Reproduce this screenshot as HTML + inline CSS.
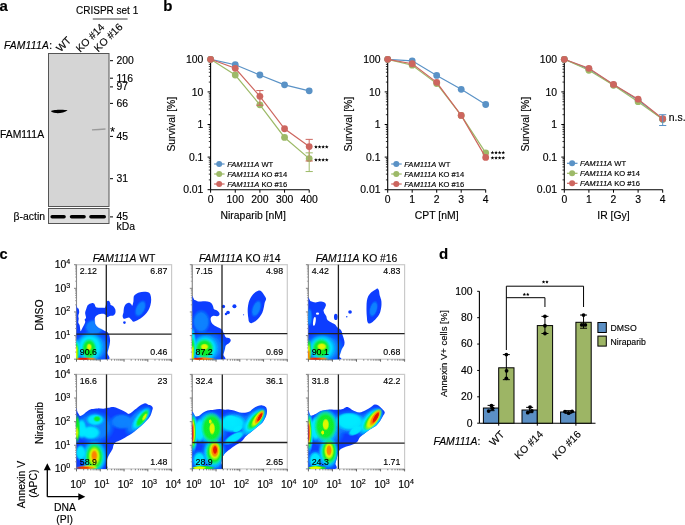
<!DOCTYPE html>
<html><head><meta charset="utf-8"><style>
html,body{margin:0;padding:0;background:#fff;}
body{width:685px;height:525px;overflow:hidden;}
svg{display:block;font-family:"Liberation Sans", sans-serif;will-change:transform;} text{stroke:#000;stroke-width:0.15px;}
</style></head><body>
<svg width="685" height="525" viewBox="0 0 685 525">
<defs>
<filter id="bl1" x="-50%" y="-200%" width="200%" height="500%"><feGaussianBlur stdDeviation="0.6"/></filter>
<radialGradient id="g1"><stop offset="0" stop-color="#0a84ff"/><stop offset="0.65" stop-color="#0a84ff" stop-opacity="0.95"/><stop offset="1" stop-color="#0a84ff" stop-opacity="0"/></radialGradient>
<radialGradient id="g2"><stop offset="0" stop-color="#00eaff"/><stop offset="0.65" stop-color="#00eaff" stop-opacity="0.95"/><stop offset="1" stop-color="#00eaff" stop-opacity="0"/></radialGradient>
<radialGradient id="g3"><stop offset="0" stop-color="#12ee22"/><stop offset="0.65" stop-color="#12ee22" stop-opacity="0.95"/><stop offset="1" stop-color="#12ee22" stop-opacity="0"/></radialGradient>
<radialGradient id="g4"><stop offset="0" stop-color="#e4f800"/><stop offset="0.65" stop-color="#e4f800" stop-opacity="0.95"/><stop offset="1" stop-color="#e4f800" stop-opacity="0"/></radialGradient>
<radialGradient id="g5"><stop offset="0" stop-color="#ff8000"/><stop offset="0.65" stop-color="#ff8000" stop-opacity="0.95"/><stop offset="1" stop-color="#ff8000" stop-opacity="0"/></radialGradient>
<radialGradient id="g6"><stop offset="0" stop-color="#e81000"/><stop offset="0.65" stop-color="#e81000" stop-opacity="0.95"/><stop offset="1" stop-color="#e81000" stop-opacity="0"/></radialGradient>
<filter id="sb" x="-5%" y="-5%" width="110%" height="110%"><feGaussianBlur stdDeviation="2.2"/></filter>
<filter id="sb2" x="-20%" y="-20%" width="140%" height="140%"><feGaussianBlur stdDeviation="3"/></filter>
<clipPath id="cp00"><rect x="76.50" y="264.70" width="95.1" height="94.5"/></clipPath>
<clipPath id="cp01"><rect x="192.30" y="264.70" width="95.0" height="94.5"/></clipPath>
<clipPath id="cp02"><rect x="308.40" y="264.70" width="96.2" height="94.5"/></clipPath>
<clipPath id="cp10"><rect x="76.50" y="374.40" width="95.1" height="94.5"/></clipPath>
<clipPath id="cp11"><rect x="192.30" y="374.40" width="95.0" height="94.5"/></clipPath>
<clipPath id="cp12"><rect x="308.40" y="374.40" width="96.2" height="94.5"/></clipPath>
</defs>
<text x="-0.60" y="11.10" font-size="15" text-anchor="start" font-weight="bold" font-style="normal" fill="#000" >a</text>
<text x="76.00" y="14.00" font-size="10" text-anchor="start" font-weight="normal" font-style="normal" fill="#000" >CRISPR set 1</text>
<line x1="92.80" y1="19.00" x2="127.60" y2="19.00" stroke="#444" stroke-width="1" />
<text x="3.90" y="48.70" font-size="10.3" text-anchor="start" font-weight="normal" font-style="normal" fill="#000" letter-spacing="0.25"><tspan font-style="italic">FAM111A</tspan>:</text>
<text x="0.00" y="0.00" font-size="10.4" text-anchor="start" font-weight="normal" font-style="normal" fill="#000" transform="translate(60.4,52.4) rotate(-45)">WT</text>
<text x="0.00" y="0.00" font-size="10.4" text-anchor="start" font-weight="normal" font-style="normal" fill="#000" transform="translate(80.2,52.8) rotate(-45)">KO #14</text>
<text x="0.00" y="0.00" font-size="10.4" text-anchor="start" font-weight="normal" font-style="normal" fill="#000" transform="translate(98.3,52.5) rotate(-45)">KO #16</text>
<rect x="48.5" y="53.5" width="60.5" height="153" fill="#d5d5d5" stroke="#555" stroke-width="1"/>
<rect x="48.5" y="208.5" width="60.5" height="15" fill="#dedede" stroke="#555" stroke-width="1"/>
<path d="M51,111 C53,109.5 64,109.3 67.6,110.2 C65,112.6 60,113.3 56,113.1 C53,112.9 51.3,112 51,111 Z" fill="#000" filter="url(#bl1)"/>
<path d="M92,129.9 Q99,129.6 105.5,129.0" stroke="#9a9a9a" stroke-width="1.3" fill="none" filter="url(#bl1)"/>
<rect x="50.4" y="215.0" width="15.4" height="3.5" rx="1.75" fill="#000" filter="url(#bl1)"/>
<rect x="69.8" y="215.0" width="16.0" height="3.5" rx="1.75" fill="#000" filter="url(#bl1)"/>
<rect x="89.2" y="215.0" width="16.8" height="3.5" rx="1.75" fill="#000" filter="url(#bl1)"/>
<line x1="110.00" y1="60.70" x2="113.00" y2="60.70" stroke="#000" stroke-width="1" />
<text x="116.50" y="64.00" font-size="10.4" text-anchor="start" font-weight="normal" font-style="normal" fill="#000" >200</text>
<line x1="110.00" y1="78.20" x2="113.00" y2="78.20" stroke="#000" stroke-width="1" />
<text x="116.50" y="81.50" font-size="10.4" text-anchor="start" font-weight="normal" font-style="normal" fill="#000" >116</text>
<line x1="110.00" y1="86.90" x2="113.00" y2="86.90" stroke="#000" stroke-width="1" />
<text x="116.50" y="90.20" font-size="10.4" text-anchor="start" font-weight="normal" font-style="normal" fill="#000" >97</text>
<line x1="110.00" y1="103.40" x2="113.00" y2="103.40" stroke="#000" stroke-width="1" />
<text x="116.50" y="106.70" font-size="10.4" text-anchor="start" font-weight="normal" font-style="normal" fill="#000" >66</text>
<line x1="110.00" y1="136.40" x2="113.00" y2="136.40" stroke="#000" stroke-width="1" />
<text x="116.50" y="139.70" font-size="10.4" text-anchor="start" font-weight="normal" font-style="normal" fill="#000" >45</text>
<line x1="110.00" y1="178.70" x2="113.00" y2="178.70" stroke="#000" stroke-width="1" />
<text x="116.50" y="182.00" font-size="10.4" text-anchor="start" font-weight="normal" font-style="normal" fill="#000" >31</text>
<line x1="110.00" y1="216.90" x2="113.00" y2="216.90" stroke="#000" stroke-width="1" />
<text x="116.50" y="220.20" font-size="10.4" text-anchor="start" font-weight="normal" font-style="normal" fill="#000" >45</text>
<text x="110.30" y="135.60" font-size="12" text-anchor="start" font-weight="normal" font-style="normal" fill="#000" >*</text>
<text x="116.50" y="229.50" font-size="10.4" text-anchor="start" font-weight="normal" font-style="normal" fill="#000" >kDa</text>
<text x="0.00" y="137.80" font-size="10.4" text-anchor="start" font-weight="normal" font-style="normal" fill="#000" >FAM111A</text>
<text x="13.60" y="220.30" font-size="10.4" text-anchor="start" font-weight="normal" font-style="normal" fill="#000" >&#946;-actin</text>
<text x="163.30" y="11.00" font-size="15" text-anchor="start" font-weight="bold" font-style="normal" fill="#000" >b</text>
<line x1="210.60" y1="59.30" x2="210.60" y2="189.70" stroke="#000" stroke-width="1.1" />
<line x1="207.60" y1="189.70" x2="210.60" y2="189.70" stroke="#000" stroke-width="1" />
<line x1="208.80" y1="179.89" x2="210.60" y2="179.89" stroke="#000" stroke-width="0.8" />
<line x1="208.80" y1="174.15" x2="210.60" y2="174.15" stroke="#000" stroke-width="0.8" />
<line x1="208.80" y1="170.07" x2="210.60" y2="170.07" stroke="#000" stroke-width="0.8" />
<line x1="208.80" y1="166.91" x2="210.60" y2="166.91" stroke="#000" stroke-width="0.8" />
<line x1="208.80" y1="164.33" x2="210.60" y2="164.33" stroke="#000" stroke-width="0.8" />
<line x1="208.80" y1="162.15" x2="210.60" y2="162.15" stroke="#000" stroke-width="0.8" />
<line x1="208.80" y1="160.26" x2="210.60" y2="160.26" stroke="#000" stroke-width="0.8" />
<line x1="208.80" y1="158.59" x2="210.60" y2="158.59" stroke="#000" stroke-width="0.8" />
<line x1="207.60" y1="157.10" x2="210.60" y2="157.10" stroke="#000" stroke-width="1" />
<line x1="208.80" y1="147.29" x2="210.60" y2="147.29" stroke="#000" stroke-width="0.8" />
<line x1="208.80" y1="141.55" x2="210.60" y2="141.55" stroke="#000" stroke-width="0.8" />
<line x1="208.80" y1="137.47" x2="210.60" y2="137.47" stroke="#000" stroke-width="0.8" />
<line x1="208.80" y1="134.31" x2="210.60" y2="134.31" stroke="#000" stroke-width="0.8" />
<line x1="208.80" y1="131.73" x2="210.60" y2="131.73" stroke="#000" stroke-width="0.8" />
<line x1="208.80" y1="129.55" x2="210.60" y2="129.55" stroke="#000" stroke-width="0.8" />
<line x1="208.80" y1="127.66" x2="210.60" y2="127.66" stroke="#000" stroke-width="0.8" />
<line x1="208.80" y1="125.99" x2="210.60" y2="125.99" stroke="#000" stroke-width="0.8" />
<line x1="207.60" y1="124.50" x2="210.60" y2="124.50" stroke="#000" stroke-width="1" />
<line x1="208.80" y1="114.69" x2="210.60" y2="114.69" stroke="#000" stroke-width="0.8" />
<line x1="208.80" y1="108.95" x2="210.60" y2="108.95" stroke="#000" stroke-width="0.8" />
<line x1="208.80" y1="104.87" x2="210.60" y2="104.87" stroke="#000" stroke-width="0.8" />
<line x1="208.80" y1="101.71" x2="210.60" y2="101.71" stroke="#000" stroke-width="0.8" />
<line x1="208.80" y1="99.13" x2="210.60" y2="99.13" stroke="#000" stroke-width="0.8" />
<line x1="208.80" y1="96.95" x2="210.60" y2="96.95" stroke="#000" stroke-width="0.8" />
<line x1="208.80" y1="95.06" x2="210.60" y2="95.06" stroke="#000" stroke-width="0.8" />
<line x1="208.80" y1="93.39" x2="210.60" y2="93.39" stroke="#000" stroke-width="0.8" />
<line x1="207.60" y1="91.90" x2="210.60" y2="91.90" stroke="#000" stroke-width="1" />
<line x1="208.80" y1="82.09" x2="210.60" y2="82.09" stroke="#000" stroke-width="0.8" />
<line x1="208.80" y1="76.35" x2="210.60" y2="76.35" stroke="#000" stroke-width="0.8" />
<line x1="208.80" y1="72.27" x2="210.60" y2="72.27" stroke="#000" stroke-width="0.8" />
<line x1="208.80" y1="69.11" x2="210.60" y2="69.11" stroke="#000" stroke-width="0.8" />
<line x1="208.80" y1="66.53" x2="210.60" y2="66.53" stroke="#000" stroke-width="0.8" />
<line x1="208.80" y1="64.35" x2="210.60" y2="64.35" stroke="#000" stroke-width="0.8" />
<line x1="208.80" y1="62.46" x2="210.60" y2="62.46" stroke="#000" stroke-width="0.8" />
<line x1="208.80" y1="60.79" x2="210.60" y2="60.79" stroke="#000" stroke-width="0.8" />
<line x1="207.60" y1="59.30" x2="210.60" y2="59.30" stroke="#000" stroke-width="1" />
<text x="203.40" y="62.90" font-size="10.4" text-anchor="end" font-weight="normal" font-style="normal" fill="#000" >100</text>
<text x="203.40" y="95.50" font-size="10.4" text-anchor="end" font-weight="normal" font-style="normal" fill="#000" >10</text>
<text x="203.40" y="128.10" font-size="10.4" text-anchor="end" font-weight="normal" font-style="normal" fill="#000" >1</text>
<text x="203.40" y="160.70" font-size="10.4" text-anchor="end" font-weight="normal" font-style="normal" fill="#000" >0.1</text>
<text x="203.40" y="193.30" font-size="10.4" text-anchor="end" font-weight="normal" font-style="normal" fill="#000" >0.01</text>
<line x1="210.60" y1="189.70" x2="309.20" y2="189.70" stroke="#000" stroke-width="1.1" />
<line x1="210.60" y1="189.70" x2="210.60" y2="192.70" stroke="#000" stroke-width="1" />
<text x="210.60" y="203.40" font-size="10.4" text-anchor="middle" font-weight="normal" font-style="normal" fill="#000" >0</text>
<line x1="235.25" y1="189.70" x2="235.25" y2="192.70" stroke="#000" stroke-width="1" />
<text x="235.25" y="203.40" font-size="10.4" text-anchor="middle" font-weight="normal" font-style="normal" fill="#000" >100</text>
<line x1="259.90" y1="189.70" x2="259.90" y2="192.70" stroke="#000" stroke-width="1" />
<text x="259.90" y="203.40" font-size="10.4" text-anchor="middle" font-weight="normal" font-style="normal" fill="#000" >200</text>
<line x1="284.55" y1="189.70" x2="284.55" y2="192.70" stroke="#000" stroke-width="1" />
<text x="284.55" y="203.40" font-size="10.4" text-anchor="middle" font-weight="normal" font-style="normal" fill="#000" >300</text>
<line x1="309.20" y1="189.70" x2="309.20" y2="192.70" stroke="#000" stroke-width="1" />
<text x="309.20" y="203.40" font-size="10.4" text-anchor="middle" font-weight="normal" font-style="normal" fill="#000" >400</text>
<text x="253.20" y="218.60" font-size="10.4" text-anchor="middle" font-weight="normal" font-style="normal" fill="#000" >Niraparib [nM]</text>
<text x="0.00" y="0.00" font-size="10.4" text-anchor="middle" font-weight="normal" font-style="normal" fill="#000" transform="translate(175.0,124.2) rotate(-90)">Survival [%]</text>
<polyline points="210.60,59.30 235.25,64.76 259.90,75.00 284.55,84.81 309.20,90.81" fill="none" stroke="#5a92c6" stroke-width="1.2"/>
<circle cx="210.60" cy="59.30" r="3.4" fill="#5a92c6"/>
<circle cx="235.25" cy="64.76" r="3.4" fill="#5a92c6"/>
<circle cx="259.90" cy="75.00" r="3.4" fill="#5a92c6"/>
<circle cx="284.55" cy="84.81" r="3.4" fill="#5a92c6"/>
<circle cx="309.20" cy="90.81" r="3.4" fill="#5a92c6"/>
<polyline points="210.60,59.30 235.25,75.00 259.90,104.87 284.55,137.47 309.20,158.59" fill="none" stroke="#9dba68" stroke-width="1.2"/>
<circle cx="210.60" cy="59.30" r="3.4" fill="#9dba68"/>
<circle cx="235.25" cy="75.00" r="3.4" fill="#9dba68"/>
<circle cx="259.90" cy="104.87" r="3.4" fill="#9dba68"/>
<circle cx="284.55" cy="137.47" r="3.4" fill="#9dba68"/>
<circle cx="309.20" cy="158.59" r="3.4" fill="#9dba68"/>
<polyline points="210.60,59.30 235.25,68.29 259.90,96.36 284.55,128.76 309.20,146.60" fill="none" stroke="#cd665f" stroke-width="1.2"/>
<circle cx="210.60" cy="59.30" r="3.4" fill="#cd665f"/>
<circle cx="235.25" cy="68.29" r="3.4" fill="#cd665f"/>
<circle cx="259.90" cy="96.36" r="3.4" fill="#cd665f"/>
<circle cx="284.55" cy="128.76" r="3.4" fill="#cd665f"/>
<circle cx="309.20" cy="146.60" r="3.4" fill="#cd665f"/>
<line x1="259.90" y1="90.55" x2="259.90" y2="105.23" stroke="#cd665f" stroke-width="1" />
<line x1="256.30" y1="90.55" x2="263.50" y2="90.55" stroke="#cd665f" stroke-width="1" />
<line x1="256.30" y1="105.23" x2="263.50" y2="105.23" stroke="#cd665f" stroke-width="1" />
<line x1="309.20" y1="139.36" x2="309.20" y2="160.99" stroke="#cd665f" stroke-width="1" />
<line x1="305.60" y1="139.36" x2="312.80" y2="139.36" stroke="#cd665f" stroke-width="1" />
<line x1="305.60" y1="160.99" x2="312.80" y2="160.99" stroke="#cd665f" stroke-width="1" />
<line x1="309.20" y1="152.85" x2="309.20" y2="171.56" stroke="#9dba68" stroke-width="1" />
<line x1="305.60" y1="152.85" x2="312.80" y2="152.85" stroke="#9dba68" stroke-width="1" />
<line x1="305.60" y1="171.56" x2="312.80" y2="171.56" stroke="#9dba68" stroke-width="1" />
<line x1="214.10" y1="164.00" x2="224.60" y2="164.00" stroke="#5a92c6" stroke-width="1.2" />
<circle cx="219.20" cy="164" r="3.0" fill="#5a92c6"/>
<text x="227.20" y="166.70" font-size="7.6" text-anchor="start" font-weight="normal" font-style="normal" fill="#000" ><tspan font-style="italic">FAM111A</tspan> WT</text>
<line x1="214.10" y1="174.00" x2="224.60" y2="174.00" stroke="#9dba68" stroke-width="1.2" />
<circle cx="219.20" cy="174" r="3.0" fill="#9dba68"/>
<text x="227.20" y="176.70" font-size="7.6" text-anchor="start" font-weight="normal" font-style="normal" fill="#000" ><tspan font-style="italic">FAM111A</tspan> KO #14</text>
<line x1="214.10" y1="184.00" x2="224.60" y2="184.00" stroke="#cd665f" stroke-width="1.2" />
<circle cx="219.20" cy="184" r="3.0" fill="#cd665f"/>
<text x="227.20" y="186.70" font-size="7.6" text-anchor="start" font-weight="normal" font-style="normal" fill="#000" ><tspan font-style="italic">FAM111A</tspan> KO #16</text>
<polygon points="315.95,145.05 316.45,146.31 317.80,146.40 316.76,147.26 317.10,148.58 315.95,147.85 314.80,148.58 315.14,147.26 314.10,146.40 315.45,146.31" fill="#000"/>
<polygon points="319.55,145.05 320.05,146.31 321.40,146.40 320.36,147.26 320.70,148.58 319.55,147.85 318.40,148.58 318.74,147.26 317.70,146.40 319.05,146.31" fill="#000"/>
<polygon points="323.15,145.05 323.65,146.31 325.00,146.40 323.96,147.26 324.30,148.58 323.15,147.85 322.00,148.58 322.34,147.26 321.30,146.40 322.65,146.31" fill="#000"/>
<polygon points="326.75,145.05 327.25,146.31 328.60,146.40 327.56,147.26 327.90,148.58 326.75,147.85 325.60,148.58 325.94,147.26 324.90,146.40 326.25,146.31" fill="#000"/>
<polygon points="315.95,157.95 316.45,159.21 317.80,159.30 316.76,160.16 317.10,161.48 315.95,160.75 314.80,161.48 315.14,160.16 314.10,159.30 315.45,159.21" fill="#000"/>
<polygon points="319.55,157.95 320.05,159.21 321.40,159.30 320.36,160.16 320.70,161.48 319.55,160.75 318.40,161.48 318.74,160.16 317.70,159.30 319.05,159.21" fill="#000"/>
<polygon points="323.15,157.95 323.65,159.21 325.00,159.30 323.96,160.16 324.30,161.48 323.15,160.75 322.00,161.48 322.34,160.16 321.30,159.30 322.65,159.21" fill="#000"/>
<polygon points="326.75,157.95 327.25,159.21 328.60,159.30 327.56,160.16 327.90,161.48 326.75,160.75 325.60,161.48 325.94,160.16 324.90,159.30 326.25,159.21" fill="#000"/>
<line x1="387.70" y1="59.30" x2="387.70" y2="189.70" stroke="#000" stroke-width="1.1" />
<line x1="384.70" y1="189.70" x2="387.70" y2="189.70" stroke="#000" stroke-width="1" />
<line x1="385.90" y1="179.89" x2="387.70" y2="179.89" stroke="#000" stroke-width="0.8" />
<line x1="385.90" y1="174.15" x2="387.70" y2="174.15" stroke="#000" stroke-width="0.8" />
<line x1="385.90" y1="170.07" x2="387.70" y2="170.07" stroke="#000" stroke-width="0.8" />
<line x1="385.90" y1="166.91" x2="387.70" y2="166.91" stroke="#000" stroke-width="0.8" />
<line x1="385.90" y1="164.33" x2="387.70" y2="164.33" stroke="#000" stroke-width="0.8" />
<line x1="385.90" y1="162.15" x2="387.70" y2="162.15" stroke="#000" stroke-width="0.8" />
<line x1="385.90" y1="160.26" x2="387.70" y2="160.26" stroke="#000" stroke-width="0.8" />
<line x1="385.90" y1="158.59" x2="387.70" y2="158.59" stroke="#000" stroke-width="0.8" />
<line x1="384.70" y1="157.10" x2="387.70" y2="157.10" stroke="#000" stroke-width="1" />
<line x1="385.90" y1="147.29" x2="387.70" y2="147.29" stroke="#000" stroke-width="0.8" />
<line x1="385.90" y1="141.55" x2="387.70" y2="141.55" stroke="#000" stroke-width="0.8" />
<line x1="385.90" y1="137.47" x2="387.70" y2="137.47" stroke="#000" stroke-width="0.8" />
<line x1="385.90" y1="134.31" x2="387.70" y2="134.31" stroke="#000" stroke-width="0.8" />
<line x1="385.90" y1="131.73" x2="387.70" y2="131.73" stroke="#000" stroke-width="0.8" />
<line x1="385.90" y1="129.55" x2="387.70" y2="129.55" stroke="#000" stroke-width="0.8" />
<line x1="385.90" y1="127.66" x2="387.70" y2="127.66" stroke="#000" stroke-width="0.8" />
<line x1="385.90" y1="125.99" x2="387.70" y2="125.99" stroke="#000" stroke-width="0.8" />
<line x1="384.70" y1="124.50" x2="387.70" y2="124.50" stroke="#000" stroke-width="1" />
<line x1="385.90" y1="114.69" x2="387.70" y2="114.69" stroke="#000" stroke-width="0.8" />
<line x1="385.90" y1="108.95" x2="387.70" y2="108.95" stroke="#000" stroke-width="0.8" />
<line x1="385.90" y1="104.87" x2="387.70" y2="104.87" stroke="#000" stroke-width="0.8" />
<line x1="385.90" y1="101.71" x2="387.70" y2="101.71" stroke="#000" stroke-width="0.8" />
<line x1="385.90" y1="99.13" x2="387.70" y2="99.13" stroke="#000" stroke-width="0.8" />
<line x1="385.90" y1="96.95" x2="387.70" y2="96.95" stroke="#000" stroke-width="0.8" />
<line x1="385.90" y1="95.06" x2="387.70" y2="95.06" stroke="#000" stroke-width="0.8" />
<line x1="385.90" y1="93.39" x2="387.70" y2="93.39" stroke="#000" stroke-width="0.8" />
<line x1="384.70" y1="91.90" x2="387.70" y2="91.90" stroke="#000" stroke-width="1" />
<line x1="385.90" y1="82.09" x2="387.70" y2="82.09" stroke="#000" stroke-width="0.8" />
<line x1="385.90" y1="76.35" x2="387.70" y2="76.35" stroke="#000" stroke-width="0.8" />
<line x1="385.90" y1="72.27" x2="387.70" y2="72.27" stroke="#000" stroke-width="0.8" />
<line x1="385.90" y1="69.11" x2="387.70" y2="69.11" stroke="#000" stroke-width="0.8" />
<line x1="385.90" y1="66.53" x2="387.70" y2="66.53" stroke="#000" stroke-width="0.8" />
<line x1="385.90" y1="64.35" x2="387.70" y2="64.35" stroke="#000" stroke-width="0.8" />
<line x1="385.90" y1="62.46" x2="387.70" y2="62.46" stroke="#000" stroke-width="0.8" />
<line x1="385.90" y1="60.79" x2="387.70" y2="60.79" stroke="#000" stroke-width="0.8" />
<line x1="384.70" y1="59.30" x2="387.70" y2="59.30" stroke="#000" stroke-width="1" />
<text x="380.50" y="62.90" font-size="10.4" text-anchor="end" font-weight="normal" font-style="normal" fill="#000" >100</text>
<text x="380.50" y="95.50" font-size="10.4" text-anchor="end" font-weight="normal" font-style="normal" fill="#000" >10</text>
<text x="380.50" y="128.10" font-size="10.4" text-anchor="end" font-weight="normal" font-style="normal" fill="#000" >1</text>
<text x="380.50" y="160.70" font-size="10.4" text-anchor="end" font-weight="normal" font-style="normal" fill="#000" >0.1</text>
<text x="380.50" y="193.30" font-size="10.4" text-anchor="end" font-weight="normal" font-style="normal" fill="#000" >0.01</text>
<line x1="387.70" y1="189.70" x2="485.70" y2="189.70" stroke="#000" stroke-width="1.1" />
<line x1="387.70" y1="189.70" x2="387.70" y2="192.70" stroke="#000" stroke-width="1" />
<text x="387.70" y="203.40" font-size="10.4" text-anchor="middle" font-weight="normal" font-style="normal" fill="#000" >0</text>
<line x1="412.20" y1="189.70" x2="412.20" y2="192.70" stroke="#000" stroke-width="1" />
<text x="412.20" y="203.40" font-size="10.4" text-anchor="middle" font-weight="normal" font-style="normal" fill="#000" >1</text>
<line x1="436.70" y1="189.70" x2="436.70" y2="192.70" stroke="#000" stroke-width="1" />
<text x="436.70" y="203.40" font-size="10.4" text-anchor="middle" font-weight="normal" font-style="normal" fill="#000" >2</text>
<line x1="461.20" y1="189.70" x2="461.20" y2="192.70" stroke="#000" stroke-width="1" />
<text x="461.20" y="203.40" font-size="10.4" text-anchor="middle" font-weight="normal" font-style="normal" fill="#000" >3</text>
<line x1="485.70" y1="189.70" x2="485.70" y2="192.70" stroke="#000" stroke-width="1" />
<text x="485.70" y="203.40" font-size="10.4" text-anchor="middle" font-weight="normal" font-style="normal" fill="#000" >4</text>
<text x="436.70" y="218.60" font-size="10.4" text-anchor="middle" font-weight="normal" font-style="normal" fill="#000" >CPT [nM]</text>
<text x="0.00" y="0.00" font-size="10.4" text-anchor="middle" font-weight="normal" font-style="normal" fill="#000" transform="translate(352.09999999999997,124.2) rotate(-90)">Survival [%]</text>
<polyline points="387.70,59.30 412.20,60.79 436.70,75.43 461.20,89.32 485.70,104.52" fill="none" stroke="#5a92c6" stroke-width="1.2"/>
<circle cx="387.70" cy="59.30" r="3.4" fill="#5a92c6"/>
<circle cx="412.20" cy="60.79" r="3.4" fill="#5a92c6"/>
<circle cx="436.70" cy="75.43" r="3.4" fill="#5a92c6"/>
<circle cx="461.20" cy="89.32" r="3.4" fill="#5a92c6"/>
<circle cx="485.70" cy="104.52" r="3.4" fill="#5a92c6"/>
<polyline points="387.70,59.30 412.20,65.18 436.70,83.58 461.20,115.41 485.70,152.85" fill="none" stroke="#9dba68" stroke-width="1.2"/>
<circle cx="387.70" cy="59.30" r="3.4" fill="#9dba68"/>
<circle cx="412.20" cy="65.18" r="3.4" fill="#9dba68"/>
<circle cx="436.70" cy="83.58" r="3.4" fill="#9dba68"/>
<circle cx="461.20" cy="115.41" r="3.4" fill="#9dba68"/>
<circle cx="485.70" cy="152.85" r="3.4" fill="#9dba68"/>
<polyline points="387.70,59.30 412.20,63.76 436.70,82.37 461.20,115.41 485.70,157.39" fill="none" stroke="#cd665f" stroke-width="1.2"/>
<circle cx="387.70" cy="59.30" r="3.4" fill="#cd665f"/>
<circle cx="412.20" cy="63.76" r="3.4" fill="#cd665f"/>
<circle cx="436.70" cy="82.37" r="3.4" fill="#cd665f"/>
<circle cx="461.20" cy="115.41" r="3.4" fill="#cd665f"/>
<circle cx="485.70" cy="157.39" r="3.4" fill="#cd665f"/>
<line x1="391.20" y1="164.00" x2="401.70" y2="164.00" stroke="#5a92c6" stroke-width="1.2" />
<circle cx="396.30" cy="164" r="3.0" fill="#5a92c6"/>
<text x="404.30" y="166.70" font-size="7.6" text-anchor="start" font-weight="normal" font-style="normal" fill="#000" ><tspan font-style="italic">FAM111A</tspan> WT</text>
<line x1="391.20" y1="174.00" x2="401.70" y2="174.00" stroke="#9dba68" stroke-width="1.2" />
<circle cx="396.30" cy="174" r="3.0" fill="#9dba68"/>
<text x="404.30" y="176.70" font-size="7.6" text-anchor="start" font-weight="normal" font-style="normal" fill="#000" ><tspan font-style="italic">FAM111A</tspan> KO #14</text>
<line x1="391.20" y1="184.00" x2="401.70" y2="184.00" stroke="#cd665f" stroke-width="1.2" />
<circle cx="396.30" cy="184" r="3.0" fill="#cd665f"/>
<text x="404.30" y="186.70" font-size="7.6" text-anchor="start" font-weight="normal" font-style="normal" fill="#000" ><tspan font-style="italic">FAM111A</tspan> KO #16</text>
<polygon points="492.45,150.65 492.95,151.91 494.30,152.00 493.26,152.86 493.60,154.18 492.45,153.45 491.30,154.18 491.64,152.86 490.60,152.00 491.95,151.91" fill="#000"/>
<polygon points="496.05,150.65 496.55,151.91 497.90,152.00 496.86,152.86 497.20,154.18 496.05,153.45 494.90,154.18 495.24,152.86 494.20,152.00 495.55,151.91" fill="#000"/>
<polygon points="499.65,150.65 500.15,151.91 501.50,152.00 500.46,152.86 500.80,154.18 499.65,153.45 498.50,154.18 498.84,152.86 497.80,152.00 499.15,151.91" fill="#000"/>
<polygon points="503.25,150.65 503.75,151.91 505.10,152.00 504.06,152.86 504.40,154.18 503.25,153.45 502.10,154.18 502.44,152.86 501.40,152.00 502.75,151.91" fill="#000"/>
<polygon points="492.45,155.95 492.95,157.21 494.30,157.30 493.26,158.16 493.60,159.48 492.45,158.75 491.30,159.48 491.64,158.16 490.60,157.30 491.95,157.21" fill="#000"/>
<polygon points="496.05,155.95 496.55,157.21 497.90,157.30 496.86,158.16 497.20,159.48 496.05,158.75 494.90,159.48 495.24,158.16 494.20,157.30 495.55,157.21" fill="#000"/>
<polygon points="499.65,155.95 500.15,157.21 501.50,157.30 500.46,158.16 500.80,159.48 499.65,158.75 498.50,159.48 498.84,158.16 497.80,157.30 499.15,157.21" fill="#000"/>
<polygon points="503.25,155.95 503.75,157.21 505.10,157.30 504.06,158.16 504.40,159.48 503.25,158.75 502.10,159.48 502.44,158.16 501.40,157.30 502.75,157.21" fill="#000"/>
<line x1="564.30" y1="59.30" x2="564.30" y2="189.70" stroke="#000" stroke-width="1.1" />
<line x1="561.30" y1="189.70" x2="564.30" y2="189.70" stroke="#000" stroke-width="1" />
<line x1="562.50" y1="179.89" x2="564.30" y2="179.89" stroke="#000" stroke-width="0.8" />
<line x1="562.50" y1="174.15" x2="564.30" y2="174.15" stroke="#000" stroke-width="0.8" />
<line x1="562.50" y1="170.07" x2="564.30" y2="170.07" stroke="#000" stroke-width="0.8" />
<line x1="562.50" y1="166.91" x2="564.30" y2="166.91" stroke="#000" stroke-width="0.8" />
<line x1="562.50" y1="164.33" x2="564.30" y2="164.33" stroke="#000" stroke-width="0.8" />
<line x1="562.50" y1="162.15" x2="564.30" y2="162.15" stroke="#000" stroke-width="0.8" />
<line x1="562.50" y1="160.26" x2="564.30" y2="160.26" stroke="#000" stroke-width="0.8" />
<line x1="562.50" y1="158.59" x2="564.30" y2="158.59" stroke="#000" stroke-width="0.8" />
<line x1="561.30" y1="157.10" x2="564.30" y2="157.10" stroke="#000" stroke-width="1" />
<line x1="562.50" y1="147.29" x2="564.30" y2="147.29" stroke="#000" stroke-width="0.8" />
<line x1="562.50" y1="141.55" x2="564.30" y2="141.55" stroke="#000" stroke-width="0.8" />
<line x1="562.50" y1="137.47" x2="564.30" y2="137.47" stroke="#000" stroke-width="0.8" />
<line x1="562.50" y1="134.31" x2="564.30" y2="134.31" stroke="#000" stroke-width="0.8" />
<line x1="562.50" y1="131.73" x2="564.30" y2="131.73" stroke="#000" stroke-width="0.8" />
<line x1="562.50" y1="129.55" x2="564.30" y2="129.55" stroke="#000" stroke-width="0.8" />
<line x1="562.50" y1="127.66" x2="564.30" y2="127.66" stroke="#000" stroke-width="0.8" />
<line x1="562.50" y1="125.99" x2="564.30" y2="125.99" stroke="#000" stroke-width="0.8" />
<line x1="561.30" y1="124.50" x2="564.30" y2="124.50" stroke="#000" stroke-width="1" />
<line x1="562.50" y1="114.69" x2="564.30" y2="114.69" stroke="#000" stroke-width="0.8" />
<line x1="562.50" y1="108.95" x2="564.30" y2="108.95" stroke="#000" stroke-width="0.8" />
<line x1="562.50" y1="104.87" x2="564.30" y2="104.87" stroke="#000" stroke-width="0.8" />
<line x1="562.50" y1="101.71" x2="564.30" y2="101.71" stroke="#000" stroke-width="0.8" />
<line x1="562.50" y1="99.13" x2="564.30" y2="99.13" stroke="#000" stroke-width="0.8" />
<line x1="562.50" y1="96.95" x2="564.30" y2="96.95" stroke="#000" stroke-width="0.8" />
<line x1="562.50" y1="95.06" x2="564.30" y2="95.06" stroke="#000" stroke-width="0.8" />
<line x1="562.50" y1="93.39" x2="564.30" y2="93.39" stroke="#000" stroke-width="0.8" />
<line x1="561.30" y1="91.90" x2="564.30" y2="91.90" stroke="#000" stroke-width="1" />
<line x1="562.50" y1="82.09" x2="564.30" y2="82.09" stroke="#000" stroke-width="0.8" />
<line x1="562.50" y1="76.35" x2="564.30" y2="76.35" stroke="#000" stroke-width="0.8" />
<line x1="562.50" y1="72.27" x2="564.30" y2="72.27" stroke="#000" stroke-width="0.8" />
<line x1="562.50" y1="69.11" x2="564.30" y2="69.11" stroke="#000" stroke-width="0.8" />
<line x1="562.50" y1="66.53" x2="564.30" y2="66.53" stroke="#000" stroke-width="0.8" />
<line x1="562.50" y1="64.35" x2="564.30" y2="64.35" stroke="#000" stroke-width="0.8" />
<line x1="562.50" y1="62.46" x2="564.30" y2="62.46" stroke="#000" stroke-width="0.8" />
<line x1="562.50" y1="60.79" x2="564.30" y2="60.79" stroke="#000" stroke-width="0.8" />
<line x1="561.30" y1="59.30" x2="564.30" y2="59.30" stroke="#000" stroke-width="1" />
<text x="557.10" y="62.90" font-size="10.4" text-anchor="end" font-weight="normal" font-style="normal" fill="#000" >100</text>
<text x="557.10" y="95.50" font-size="10.4" text-anchor="end" font-weight="normal" font-style="normal" fill="#000" >10</text>
<text x="557.10" y="128.10" font-size="10.4" text-anchor="end" font-weight="normal" font-style="normal" fill="#000" >1</text>
<text x="557.10" y="160.70" font-size="10.4" text-anchor="end" font-weight="normal" font-style="normal" fill="#000" >0.1</text>
<text x="557.10" y="193.30" font-size="10.4" text-anchor="end" font-weight="normal" font-style="normal" fill="#000" >0.01</text>
<line x1="564.30" y1="189.70" x2="662.70" y2="189.70" stroke="#000" stroke-width="1.1" />
<line x1="564.30" y1="189.70" x2="564.30" y2="192.70" stroke="#000" stroke-width="1" />
<text x="564.30" y="203.40" font-size="10.4" text-anchor="middle" font-weight="normal" font-style="normal" fill="#000" >0</text>
<line x1="588.90" y1="189.70" x2="588.90" y2="192.70" stroke="#000" stroke-width="1" />
<text x="588.90" y="203.40" font-size="10.4" text-anchor="middle" font-weight="normal" font-style="normal" fill="#000" >1</text>
<line x1="613.50" y1="189.70" x2="613.50" y2="192.70" stroke="#000" stroke-width="1" />
<text x="613.50" y="203.40" font-size="10.4" text-anchor="middle" font-weight="normal" font-style="normal" fill="#000" >2</text>
<line x1="638.10" y1="189.70" x2="638.10" y2="192.70" stroke="#000" stroke-width="1" />
<text x="638.10" y="203.40" font-size="10.4" text-anchor="middle" font-weight="normal" font-style="normal" fill="#000" >3</text>
<line x1="662.70" y1="189.70" x2="662.70" y2="192.70" stroke="#000" stroke-width="1" />
<text x="662.70" y="203.40" font-size="10.4" text-anchor="middle" font-weight="normal" font-style="normal" fill="#000" >4</text>
<text x="613.50" y="218.60" font-size="10.4" text-anchor="middle" font-weight="normal" font-style="normal" fill="#000" >IR [Gy]</text>
<text x="0.00" y="0.00" font-size="10.4" text-anchor="middle" font-weight="normal" font-style="normal" fill="#000" transform="translate(528.6999999999999,124.2) rotate(-90)">Survival [%]</text>
<polyline points="564.30,59.30 588.90,69.11 613.50,84.81 638.10,100.11 662.70,119.24" fill="none" stroke="#5a92c6" stroke-width="1.2"/>
<circle cx="564.30" cy="59.30" r="3.4" fill="#5a92c6"/>
<circle cx="588.90" cy="69.11" r="3.4" fill="#5a92c6"/>
<circle cx="613.50" cy="84.81" r="3.4" fill="#5a92c6"/>
<circle cx="638.10" cy="100.11" r="3.4" fill="#5a92c6"/>
<circle cx="662.70" cy="119.24" r="3.4" fill="#5a92c6"/>
<polyline points="564.30,59.30 588.90,70.29 613.50,85.25 638.10,101.71 662.70,119.24" fill="none" stroke="#9dba68" stroke-width="1.2"/>
<circle cx="564.30" cy="59.30" r="3.4" fill="#9dba68"/>
<circle cx="588.90" cy="70.29" r="3.4" fill="#9dba68"/>
<circle cx="613.50" cy="85.25" r="3.4" fill="#9dba68"/>
<circle cx="638.10" cy="101.71" r="3.4" fill="#9dba68"/>
<circle cx="662.70" cy="119.24" r="3.4" fill="#9dba68"/>
<polyline points="564.30,59.30 588.90,68.29 613.50,84.39 638.10,99.13 662.70,118.76" fill="none" stroke="#cd665f" stroke-width="1.2"/>
<circle cx="564.30" cy="59.30" r="3.4" fill="#cd665f"/>
<circle cx="588.90" cy="68.29" r="3.4" fill="#cd665f"/>
<circle cx="613.50" cy="84.39" r="3.4" fill="#cd665f"/>
<circle cx="638.10" cy="99.13" r="3.4" fill="#cd665f"/>
<circle cx="662.70" cy="118.76" r="3.4" fill="#cd665f"/>
<line x1="662.70" y1="114.69" x2="662.70" y2="125.53" stroke="#5a92c6" stroke-width="1" />
<line x1="659.10" y1="114.69" x2="666.30" y2="114.69" stroke="#5a92c6" stroke-width="1" />
<line x1="659.10" y1="125.53" x2="666.30" y2="125.53" stroke="#5a92c6" stroke-width="1" />
<line x1="567.00" y1="163.30" x2="577.50" y2="163.30" stroke="#5a92c6" stroke-width="1.2" />
<circle cx="572.10" cy="163.3" r="3.0" fill="#5a92c6"/>
<text x="580.10" y="166.00" font-size="7.6" text-anchor="start" font-weight="normal" font-style="normal" fill="#000" ><tspan font-style="italic">FAM111A</tspan> WT</text>
<line x1="567.00" y1="173.30" x2="577.50" y2="173.30" stroke="#9dba68" stroke-width="1.2" />
<circle cx="572.10" cy="173.3" r="3.0" fill="#9dba68"/>
<text x="580.10" y="176.00" font-size="7.6" text-anchor="start" font-weight="normal" font-style="normal" fill="#000" ><tspan font-style="italic">FAM111A</tspan> KO #14</text>
<line x1="567.00" y1="183.30" x2="577.50" y2="183.30" stroke="#cd665f" stroke-width="1.2" />
<circle cx="572.10" cy="183.3" r="3.0" fill="#cd665f"/>
<text x="580.10" y="186.00" font-size="7.6" text-anchor="start" font-weight="normal" font-style="normal" fill="#000" ><tspan font-style="italic">FAM111A</tspan> KO #16</text>
<text x="668.80" y="121.30" font-size="10.4" text-anchor="start" font-weight="normal" font-style="normal" fill="#000" >n.s.</text>
<text x="-0.60" y="258.50" font-size="14.6" text-anchor="start" font-weight="bold" font-style="normal" fill="#000" >c</text>
<text x="124.05" y="261.90" font-size="10.35" text-anchor="middle" font-weight="normal" font-style="normal" fill="#000" ><tspan font-style="italic">FAM111A</tspan> WT</text>
<text x="239.80" y="261.90" font-size="10.35" text-anchor="middle" font-weight="normal" font-style="normal" fill="#000" ><tspan font-style="italic">FAM111A</tspan> KO #14</text>
<text x="356.50" y="261.90" font-size="10.35" text-anchor="middle" font-weight="normal" font-style="normal" fill="#000" ><tspan font-style="italic">FAM111A</tspan> KO #16</text>
<rect x="76.50" y="264.70" width="95.1" height="94.5" fill="none" stroke="#cacaca" stroke-width="1.2"/>
<line x1="76.50" y1="264.70" x2="76.50" y2="359.20" stroke="#8a8a8a" stroke-width="1" />
<rect x="192.30" y="264.70" width="95.0" height="94.5" fill="none" stroke="#cacaca" stroke-width="1.2"/>
<line x1="192.30" y1="264.70" x2="192.30" y2="359.20" stroke="#8a8a8a" stroke-width="1" />
<rect x="308.40" y="264.70" width="96.2" height="94.5" fill="none" stroke="#cacaca" stroke-width="1.2"/>
<line x1="308.40" y1="264.70" x2="308.40" y2="359.20" stroke="#8a8a8a" stroke-width="1" />
<rect x="76.50" y="374.40" width="95.1" height="94.5" fill="none" stroke="#cacaca" stroke-width="1.2"/>
<line x1="76.50" y1="374.40" x2="76.50" y2="468.90" stroke="#8a8a8a" stroke-width="1" />
<rect x="192.30" y="374.40" width="95.0" height="94.5" fill="none" stroke="#cacaca" stroke-width="1.2"/>
<line x1="192.30" y1="374.40" x2="192.30" y2="468.90" stroke="#8a8a8a" stroke-width="1" />
<rect x="308.40" y="374.40" width="96.2" height="94.5" fill="none" stroke="#cacaca" stroke-width="1.2"/>
<line x1="308.40" y1="374.40" x2="308.40" y2="468.90" stroke="#8a8a8a" stroke-width="1" />
<g clip-path="url(#cp00)"><g transform="translate(76,265) scale(0.182857)">
<g fill="#103cff" filter="url(#sb)"><path d="M-5.0,520.0 C-34.2,473.0 -7.3,285.3 -5.0,238.0 C-2.7,190.7 5.7,235.4 9.0,236.0 C12.3,236.6 13.6,237.7 15.0,241.5 C16.4,245.3 17.9,252.8 17.5,259.0 C17.1,265.2 12.9,273.2 12.5,279.0 C12.1,284.8 15.0,288.2 15.0,294.0 C15.0,299.8 11.7,308.2 12.5,314.0 C13.3,319.8 18.3,323.2 20.0,329.0 C21.7,334.8 21.5,343.5 22.5,349.0 C23.5,354.5 23.9,362.7 26.0,362.0 C28.1,361.3 31.0,353.0 35.0,345.0 C39.0,337.0 47.9,321.7 50.0,314.0 C52.1,306.3 46.7,303.2 47.5,299.0 C48.3,294.8 54.6,294.8 55.0,289.0 C55.4,283.2 50.0,271.5 50.0,264.0 C50.0,256.5 52.5,251.5 55.0,244.0 C57.5,236.5 60.0,224.8 65.0,219.0 C70.0,213.2 79.2,210.2 85.0,209.0 C90.8,207.8 96.2,208.2 100.0,211.5 C103.8,214.8 104.2,225.2 107.5,229.0 C110.8,232.8 113.8,233.2 120.0,234.0 C126.2,234.8 138.3,234.4 145.0,234.0 C151.7,233.6 156.2,236.9 160.0,231.5 C163.8,226.1 164.2,207.3 167.5,201.5 C170.8,195.7 176.7,195.2 180.0,196.5 C183.3,197.8 185.8,205.2 187.5,209.0 C189.2,212.8 187.1,216.1 190.0,219.0 C192.9,221.9 200.8,222.3 205.0,226.5 C209.2,230.7 213.3,237.8 215.0,244.0 C216.7,250.2 216.7,258.6 215.0,264.0 C213.3,269.4 210.0,274.0 205.0,276.5 C200.0,279.0 190.8,277.6 185.0,279.0 C179.2,280.4 173.8,286.2 170.0,285.0 C166.2,283.8 166.2,275.2 162.0,272.0 C157.8,268.8 152.0,266.1 145.0,266.0 C138.0,265.9 126.7,268.5 120.0,271.5 C113.3,274.5 107.9,278.6 105.0,284.0 C102.1,289.4 102.5,297.3 102.5,304.0 C102.5,310.7 102.1,317.8 105.0,324.0 C107.9,330.2 113.3,336.5 120.0,341.5 C126.7,346.5 137.5,350.2 145.0,354.0 C152.5,357.8 159.8,361.0 165.0,364.0 C170.2,367.0 172.8,367.3 176.0,372.0 C179.2,376.7 182.3,384.0 184.0,392.0 C185.7,400.0 186.7,410.3 186.0,420.0 C185.3,429.7 182.3,440.0 180.0,450.0 C177.7,460.0 173.7,468.3 172.0,480.0 C170.3,491.7 199.5,513.3 170.0,520.0 C140.5,526.7 24.2,567.0 -5.0,520.0 Z"/><path d="M320.0,165.0 C325.0,160.0 335.8,153.2 345.0,150.0 C354.2,146.8 365.8,145.7 375.0,146.0 C384.2,146.3 394.2,147.2 400.0,152.0 C405.8,156.8 408.3,166.2 410.0,175.0 C411.7,183.8 411.3,195.0 410.0,205.0 C408.7,215.0 405.7,225.8 402.0,235.0 C398.3,244.2 394.2,252.0 388.0,260.0 C381.8,268.0 373.0,276.3 365.0,283.0 C357.0,289.7 348.3,295.5 340.0,300.0 C331.7,304.5 321.2,310.0 315.0,310.0 C308.8,310.0 306.8,303.7 303.0,300.0 C299.2,296.3 296.2,289.7 292.0,288.0 C287.8,286.3 283.0,289.0 278.0,290.0 C273.0,291.0 265.8,295.7 262.0,294.0 C258.2,292.3 255.3,286.0 255.0,280.0 C254.7,274.0 258.8,265.3 260.0,258.0 C261.2,250.7 260.0,243.2 262.0,236.0 C264.0,228.8 267.7,220.0 272.0,215.0 C276.3,210.0 283.3,206.5 288.0,206.0 C292.7,205.5 296.7,209.3 300.0,212.0 C303.3,214.7 305.7,224.0 308.0,222.0 C310.3,220.0 312.8,207.0 314.0,200.0 C315.2,193.0 314.0,185.8 315.0,180.0 C316.0,174.2 315.0,170.0 320.0,165.0 Z"/><circle cx="265" cy="315" r="7"/></g>
<clipPath id="in00"><path d="M-5.0,520.0 C-34.2,473.0 -7.3,285.3 -5.0,238.0 C-2.7,190.7 5.7,235.4 9.0,236.0 C12.3,236.6 13.6,237.7 15.0,241.5 C16.4,245.3 17.9,252.8 17.5,259.0 C17.1,265.2 12.9,273.2 12.5,279.0 C12.1,284.8 15.0,288.2 15.0,294.0 C15.0,299.8 11.7,308.2 12.5,314.0 C13.3,319.8 18.3,323.2 20.0,329.0 C21.7,334.8 21.5,343.5 22.5,349.0 C23.5,354.5 23.9,362.7 26.0,362.0 C28.1,361.3 31.0,353.0 35.0,345.0 C39.0,337.0 47.9,321.7 50.0,314.0 C52.1,306.3 46.7,303.2 47.5,299.0 C48.3,294.8 54.6,294.8 55.0,289.0 C55.4,283.2 50.0,271.5 50.0,264.0 C50.0,256.5 52.5,251.5 55.0,244.0 C57.5,236.5 60.0,224.8 65.0,219.0 C70.0,213.2 79.2,210.2 85.0,209.0 C90.8,207.8 96.2,208.2 100.0,211.5 C103.8,214.8 104.2,225.2 107.5,229.0 C110.8,232.8 113.8,233.2 120.0,234.0 C126.2,234.8 138.3,234.4 145.0,234.0 C151.7,233.6 156.2,236.9 160.0,231.5 C163.8,226.1 164.2,207.3 167.5,201.5 C170.8,195.7 176.7,195.2 180.0,196.5 C183.3,197.8 185.8,205.2 187.5,209.0 C189.2,212.8 187.1,216.1 190.0,219.0 C192.9,221.9 200.8,222.3 205.0,226.5 C209.2,230.7 213.3,237.8 215.0,244.0 C216.7,250.2 216.7,258.6 215.0,264.0 C213.3,269.4 210.0,274.0 205.0,276.5 C200.0,279.0 190.8,277.6 185.0,279.0 C179.2,280.4 173.8,286.2 170.0,285.0 C166.2,283.8 166.2,275.2 162.0,272.0 C157.8,268.8 152.0,266.1 145.0,266.0 C138.0,265.9 126.7,268.5 120.0,271.5 C113.3,274.5 107.9,278.6 105.0,284.0 C102.1,289.4 102.5,297.3 102.5,304.0 C102.5,310.7 102.1,317.8 105.0,324.0 C107.9,330.2 113.3,336.5 120.0,341.5 C126.7,346.5 137.5,350.2 145.0,354.0 C152.5,357.8 159.8,361.0 165.0,364.0 C170.2,367.0 172.8,367.3 176.0,372.0 C179.2,376.7 182.3,384.0 184.0,392.0 C185.7,400.0 186.7,410.3 186.0,420.0 C185.3,429.7 182.3,440.0 180.0,450.0 C177.7,460.0 173.7,468.3 172.0,480.0 C170.3,491.7 199.5,513.3 170.0,520.0 C140.5,526.7 24.2,567.0 -5.0,520.0 Z"/><path d="M320.0,165.0 C325.0,160.0 335.8,153.2 345.0,150.0 C354.2,146.8 365.8,145.7 375.0,146.0 C384.2,146.3 394.2,147.2 400.0,152.0 C405.8,156.8 408.3,166.2 410.0,175.0 C411.7,183.8 411.3,195.0 410.0,205.0 C408.7,215.0 405.7,225.8 402.0,235.0 C398.3,244.2 394.2,252.0 388.0,260.0 C381.8,268.0 373.0,276.3 365.0,283.0 C357.0,289.7 348.3,295.5 340.0,300.0 C331.7,304.5 321.2,310.0 315.0,310.0 C308.8,310.0 306.8,303.7 303.0,300.0 C299.2,296.3 296.2,289.7 292.0,288.0 C287.8,286.3 283.0,289.0 278.0,290.0 C273.0,291.0 265.8,295.7 262.0,294.0 C258.2,292.3 255.3,286.0 255.0,280.0 C254.7,274.0 258.8,265.3 260.0,258.0 C261.2,250.7 260.0,243.2 262.0,236.0 C264.0,228.8 267.7,220.0 272.0,215.0 C276.3,210.0 283.3,206.5 288.0,206.0 C292.7,205.5 296.7,209.3 300.0,212.0 C303.3,214.7 305.7,224.0 308.0,222.0 C310.3,220.0 312.8,207.0 314.0,200.0 C315.2,193.0 314.0,185.8 315.0,180.0 C316.0,174.2 315.0,170.0 320.0,165.0 Z"/><circle cx="265" cy="315" r="7"/></clipPath>
<g clip-path="url(#in00)"><g filter="url(#sb2)">
<ellipse cx="352" cy="238" rx="27.6" ry="51.7" transform="rotate(25 352 238)" fill="url(#g1)"/>
<ellipse cx="85" cy="450" rx="109.2" ry="92.0" transform="rotate(0 85 450)" fill="url(#g1)"/>
<ellipse cx="100" cy="340" rx="57.5" ry="46.0" transform="rotate(0 100 340)" fill="url(#g1)"/>
<ellipse cx="75" cy="450" rx="78.2" ry="82.8" transform="rotate(0 75 450)" fill="url(#g2)"/>
<ellipse cx="5" cy="470" rx="16.1" ry="69.0" transform="rotate(0 5 470)" fill="url(#g2)"/>
<ellipse cx="72" cy="458" rx="41.4" ry="57.5" transform="rotate(0 72 458)" fill="url(#g3)"/>
<ellipse cx="4" cy="475" rx="10.3" ry="57.5" transform="rotate(0 4 475)" fill="url(#g3)"/>
<ellipse cx="72" cy="448" rx="14.9" ry="20.7" transform="rotate(0 72 448)" fill="url(#g4)"/>
<ellipse cx="3" cy="480" rx="6.9" ry="46.0" transform="rotate(0 3 480)" fill="url(#g4)"/>
<ellipse cx="55" cy="513" rx="63.2" ry="9.2" transform="rotate(0 55 513)" fill="url(#g5)"/>
<ellipse cx="40" cy="513" rx="40.2" ry="5.8" transform="rotate(0 40 513)" fill="url(#g6)"/>
</g></g>
</g></g>
<g clip-path="url(#cp01)"><g transform="translate(192,265) scale(0.182857)">
<g fill="#103cff" filter="url(#sb)"><path d="M-5.0,520.0 C-34.2,465.8 -8.3,249.7 -5.0,195.0 C-1.7,140.3 8.3,191.2 15.0,192.0 C21.7,192.8 27.5,199.0 35.0,200.0 C42.5,201.0 51.7,198.0 60.0,198.0 C68.3,198.0 77.5,198.3 85.0,200.0 C92.5,201.7 100.0,203.8 105.0,208.0 C110.0,212.2 112.5,219.7 115.0,225.0 C117.5,230.3 116.7,236.2 120.0,240.0 C123.3,243.8 130.3,244.7 135.0,248.0 C139.7,251.3 145.5,256.0 148.0,260.0 C150.5,264.0 151.7,268.7 150.0,272.0 C148.3,275.3 143.3,279.0 138.0,280.0 C132.7,281.0 123.5,277.2 118.0,278.0 C112.5,278.8 107.7,281.3 105.0,285.0 C102.3,288.7 101.2,294.2 102.0,300.0 C102.8,305.8 105.3,314.2 110.0,320.0 C114.7,325.8 123.3,330.8 130.0,335.0 C136.7,339.2 144.2,341.7 150.0,345.0 C155.8,348.3 160.8,350.0 165.0,355.0 C169.2,360.0 171.7,368.3 175.0,375.0 C178.3,381.7 180.0,390.8 185.0,395.0 C190.0,399.2 200.5,397.2 205.0,400.0 C209.5,402.8 212.0,407.8 212.0,412.0 C212.0,416.2 209.5,420.3 205.0,425.0 C200.5,429.7 189.2,434.2 185.0,440.0 C180.8,445.8 182.2,451.7 180.0,460.0 C177.8,468.3 173.7,480.0 172.0,490.0 C170.3,500.0 199.5,515.0 170.0,520.0 C140.5,525.0 24.2,574.2 -5.0,520.0 Z"/><path d="M340.0,155.0 C347.5,148.3 358.3,141.7 365.0,140.0 C371.7,138.3 375.0,140.8 380.0,145.0 C385.0,149.2 390.8,158.3 395.0,165.0 C399.2,171.7 404.5,178.3 405.0,185.0 C405.5,191.7 400.2,196.7 398.0,205.0 C395.8,213.3 394.2,225.8 392.0,235.0 C389.8,244.2 388.7,251.7 385.0,260.0 C381.3,268.3 375.8,277.5 370.0,285.0 C364.2,292.5 357.5,299.5 350.0,305.0 C342.5,310.5 331.3,317.2 325.0,318.0 C318.7,318.8 314.8,314.7 312.0,310.0 C309.2,305.3 309.2,298.0 308.0,290.0 C306.8,282.0 305.5,271.2 305.0,262.0 C304.5,252.8 304.2,244.5 305.0,235.0 C305.8,225.5 307.5,214.2 310.0,205.0 C312.5,195.8 315.0,188.3 320.0,180.0 C325.0,171.7 332.5,161.7 340.0,155.0 Z"/><circle cx="172" cy="227" r="9"/><circle cx="232" cy="226" r="11"/><circle cx="197" cy="260" r="10"/><circle cx="186" cy="268" r="7"/><circle cx="282" cy="272" r="3"/></g>
<clipPath id="in01"><path d="M-5.0,520.0 C-34.2,465.8 -8.3,249.7 -5.0,195.0 C-1.7,140.3 8.3,191.2 15.0,192.0 C21.7,192.8 27.5,199.0 35.0,200.0 C42.5,201.0 51.7,198.0 60.0,198.0 C68.3,198.0 77.5,198.3 85.0,200.0 C92.5,201.7 100.0,203.8 105.0,208.0 C110.0,212.2 112.5,219.7 115.0,225.0 C117.5,230.3 116.7,236.2 120.0,240.0 C123.3,243.8 130.3,244.7 135.0,248.0 C139.7,251.3 145.5,256.0 148.0,260.0 C150.5,264.0 151.7,268.7 150.0,272.0 C148.3,275.3 143.3,279.0 138.0,280.0 C132.7,281.0 123.5,277.2 118.0,278.0 C112.5,278.8 107.7,281.3 105.0,285.0 C102.3,288.7 101.2,294.2 102.0,300.0 C102.8,305.8 105.3,314.2 110.0,320.0 C114.7,325.8 123.3,330.8 130.0,335.0 C136.7,339.2 144.2,341.7 150.0,345.0 C155.8,348.3 160.8,350.0 165.0,355.0 C169.2,360.0 171.7,368.3 175.0,375.0 C178.3,381.7 180.0,390.8 185.0,395.0 C190.0,399.2 200.5,397.2 205.0,400.0 C209.5,402.8 212.0,407.8 212.0,412.0 C212.0,416.2 209.5,420.3 205.0,425.0 C200.5,429.7 189.2,434.2 185.0,440.0 C180.8,445.8 182.2,451.7 180.0,460.0 C177.8,468.3 173.7,480.0 172.0,490.0 C170.3,500.0 199.5,515.0 170.0,520.0 C140.5,525.0 24.2,574.2 -5.0,520.0 Z"/><path d="M340.0,155.0 C347.5,148.3 358.3,141.7 365.0,140.0 C371.7,138.3 375.0,140.8 380.0,145.0 C385.0,149.2 390.8,158.3 395.0,165.0 C399.2,171.7 404.5,178.3 405.0,185.0 C405.5,191.7 400.2,196.7 398.0,205.0 C395.8,213.3 394.2,225.8 392.0,235.0 C389.8,244.2 388.7,251.7 385.0,260.0 C381.3,268.3 375.8,277.5 370.0,285.0 C364.2,292.5 357.5,299.5 350.0,305.0 C342.5,310.5 331.3,317.2 325.0,318.0 C318.7,318.8 314.8,314.7 312.0,310.0 C309.2,305.3 309.2,298.0 308.0,290.0 C306.8,282.0 305.5,271.2 305.0,262.0 C304.5,252.8 304.2,244.5 305.0,235.0 C305.8,225.5 307.5,214.2 310.0,205.0 C312.5,195.8 315.0,188.3 320.0,180.0 C325.0,171.7 332.5,161.7 340.0,155.0 Z"/><circle cx="172" cy="227" r="9"/><circle cx="232" cy="226" r="11"/><circle cx="197" cy="260" r="10"/><circle cx="186" cy="268" r="7"/><circle cx="282" cy="272" r="3"/></clipPath>
<g clip-path="url(#in01)"><g filter="url(#sb2)">
<ellipse cx="352" cy="238" rx="25.3" ry="51.7" transform="rotate(20 352 238)" fill="url(#g1)"/>
<ellipse cx="50" cy="310" rx="51.7" ry="69.0" transform="rotate(0 50 310)" fill="url(#g1)"/>
<ellipse cx="80" cy="450" rx="109.2" ry="92.0" transform="rotate(0 80 450)" fill="url(#g1)"/>
<ellipse cx="72" cy="455" rx="74.8" ry="74.8" transform="rotate(0 72 455)" fill="url(#g2)"/>
<ellipse cx="5" cy="440" rx="16.1" ry="103.5" transform="rotate(0 5 440)" fill="url(#g2)"/>
<ellipse cx="68" cy="456" rx="52.9" ry="55.2" transform="rotate(0 68 456)" fill="url(#g3)"/>
<ellipse cx="4" cy="460" rx="10.3" ry="69.0" transform="rotate(0 4 460)" fill="url(#g3)"/>
<ellipse cx="68" cy="447" rx="23.0" ry="18.4" transform="rotate(0 68 447)" fill="url(#g4)"/>
<ellipse cx="3" cy="480" rx="6.9" ry="46.0" transform="rotate(0 3 480)" fill="url(#g4)"/>
<ellipse cx="60" cy="513" rx="69.0" ry="9.2" transform="rotate(0 60 513)" fill="url(#g5)"/>
<ellipse cx="35" cy="513" rx="28.7" ry="5.8" transform="rotate(0 35 513)" fill="url(#g6)"/>
</g></g>
</g></g>
<g clip-path="url(#cp02)"><g transform="translate(308,265) scale(0.182857)">
<g fill="#103cff" filter="url(#sb)"><path d="M-5.0,520.0 C-34.2,466.7 -8.3,253.7 -5.0,200.0 C-1.7,146.3 7.5,197.2 15.0,198.0 C22.5,198.8 31.7,204.7 40.0,205.0 C48.3,205.3 56.7,200.0 65.0,200.0 C73.3,200.0 84.5,202.0 90.0,205.0 C95.5,208.0 97.7,213.0 98.0,218.0 C98.3,223.0 94.2,230.0 92.0,235.0 C89.8,240.0 85.3,243.0 85.0,248.0 C84.7,253.0 87.5,259.7 90.0,265.0 C92.5,270.3 97.5,274.5 100.0,280.0 C102.5,285.5 101.7,293.0 105.0,298.0 C108.3,303.0 115.0,306.7 120.0,310.0 C125.0,313.3 130.3,315.5 135.0,318.0 C139.7,320.5 143.8,321.3 148.0,325.0 C152.2,328.7 155.5,335.8 160.0,340.0 C164.5,344.2 170.8,345.8 175.0,350.0 C179.2,354.2 182.8,360.0 185.0,365.0 C187.2,370.0 186.3,374.2 188.0,380.0 C189.7,385.8 193.0,392.5 195.0,400.0 C197.0,407.5 200.0,417.5 200.0,425.0 C200.0,432.5 197.5,439.2 195.0,445.0 C192.5,450.8 187.8,454.2 185.0,460.0 C182.2,465.8 180.2,473.3 178.0,480.0 C175.8,486.7 173.3,493.3 172.0,500.0 C170.7,506.7 199.5,516.7 170.0,520.0 C140.5,523.3 24.2,573.3 -5.0,520.0 Z"/><path d="M345.0,150.0 C351.3,144.2 362.2,138.7 368.0,135.0 C373.8,131.3 376.7,127.2 380.0,128.0 C383.3,128.8 386.0,133.8 388.0,140.0 C390.0,146.2 390.0,156.7 392.0,165.0 C394.0,173.3 398.3,181.7 400.0,190.0 C401.7,198.3 402.3,205.8 402.0,215.0 C401.7,224.2 400.0,235.8 398.0,245.0 C396.0,254.2 393.8,262.5 390.0,270.0 C386.2,277.5 380.8,283.3 375.0,290.0 C369.2,296.7 361.7,305.0 355.0,310.0 C348.3,315.0 340.0,320.0 335.0,320.0 C330.0,320.0 327.2,315.8 325.0,310.0 C322.8,304.2 322.8,294.2 322.0,285.0 C321.2,275.8 320.3,265.0 320.0,255.0 C319.7,245.0 319.7,235.0 320.0,225.0 C320.3,215.0 320.3,204.2 322.0,195.0 C323.7,185.8 326.2,177.5 330.0,170.0 C333.8,162.5 338.7,155.8 345.0,150.0 Z"/><ellipse cx="152" cy="284" rx="10" ry="17" transform="rotate(0 152 284)"/><circle cx="230" cy="257" r="10"/><circle cx="212" cy="283" r="4"/></g>
<clipPath id="in02"><path d="M-5.0,520.0 C-34.2,466.7 -8.3,253.7 -5.0,200.0 C-1.7,146.3 7.5,197.2 15.0,198.0 C22.5,198.8 31.7,204.7 40.0,205.0 C48.3,205.3 56.7,200.0 65.0,200.0 C73.3,200.0 84.5,202.0 90.0,205.0 C95.5,208.0 97.7,213.0 98.0,218.0 C98.3,223.0 94.2,230.0 92.0,235.0 C89.8,240.0 85.3,243.0 85.0,248.0 C84.7,253.0 87.5,259.7 90.0,265.0 C92.5,270.3 97.5,274.5 100.0,280.0 C102.5,285.5 101.7,293.0 105.0,298.0 C108.3,303.0 115.0,306.7 120.0,310.0 C125.0,313.3 130.3,315.5 135.0,318.0 C139.7,320.5 143.8,321.3 148.0,325.0 C152.2,328.7 155.5,335.8 160.0,340.0 C164.5,344.2 170.8,345.8 175.0,350.0 C179.2,354.2 182.8,360.0 185.0,365.0 C187.2,370.0 186.3,374.2 188.0,380.0 C189.7,385.8 193.0,392.5 195.0,400.0 C197.0,407.5 200.0,417.5 200.0,425.0 C200.0,432.5 197.5,439.2 195.0,445.0 C192.5,450.8 187.8,454.2 185.0,460.0 C182.2,465.8 180.2,473.3 178.0,480.0 C175.8,486.7 173.3,493.3 172.0,500.0 C170.7,506.7 199.5,516.7 170.0,520.0 C140.5,523.3 24.2,573.3 -5.0,520.0 Z"/><path d="M345.0,150.0 C351.3,144.2 362.2,138.7 368.0,135.0 C373.8,131.3 376.7,127.2 380.0,128.0 C383.3,128.8 386.0,133.8 388.0,140.0 C390.0,146.2 390.0,156.7 392.0,165.0 C394.0,173.3 398.3,181.7 400.0,190.0 C401.7,198.3 402.3,205.8 402.0,215.0 C401.7,224.2 400.0,235.8 398.0,245.0 C396.0,254.2 393.8,262.5 390.0,270.0 C386.2,277.5 380.8,283.3 375.0,290.0 C369.2,296.7 361.7,305.0 355.0,310.0 C348.3,315.0 340.0,320.0 335.0,320.0 C330.0,320.0 327.2,315.8 325.0,310.0 C322.8,304.2 322.8,294.2 322.0,285.0 C321.2,275.8 320.3,265.0 320.0,255.0 C319.7,245.0 319.7,235.0 320.0,225.0 C320.3,215.0 320.3,204.2 322.0,195.0 C323.7,185.8 326.2,177.5 330.0,170.0 C333.8,162.5 338.7,155.8 345.0,150.0 Z"/><ellipse cx="152" cy="284" rx="10" ry="17" transform="rotate(0 152 284)"/><circle cx="230" cy="257" r="10"/><circle cx="212" cy="283" r="4"/></clipPath>
<g clip-path="url(#in02)"><g filter="url(#sb2)">
<ellipse cx="358" cy="240" rx="23.0" ry="48.3" transform="rotate(15 358 240)" fill="url(#g1)"/>
<ellipse cx="85" cy="455" rx="115.0" ry="92.0" transform="rotate(0 85 455)" fill="url(#g1)"/>
<ellipse cx="8" cy="285" rx="16.1" ry="51.7" transform="rotate(0 8 285)" fill="url(#g1)"/>
<ellipse cx="75" cy="455" rx="80.5" ry="74.8" transform="rotate(0 75 455)" fill="url(#g2)"/>
<ellipse cx="72" cy="455" rx="51.7" ry="55.2" transform="rotate(0 72 455)" fill="url(#g3)"/>
<ellipse cx="5" cy="470" rx="13.8" ry="69.0" transform="rotate(0 5 470)" fill="url(#g3)"/>
<ellipse cx="75" cy="446" rx="27.6" ry="20.7" transform="rotate(0 75 446)" fill="url(#g4)"/>
<ellipse cx="4" cy="480" rx="9.2" ry="51.7" transform="rotate(0 4 480)" fill="url(#g4)"/>
<ellipse cx="3" cy="490" rx="5.8" ry="34.5" transform="rotate(0 3 490)" fill="url(#g5)"/>
<ellipse cx="55" cy="513" rx="63.2" ry="9.2" transform="rotate(0 55 513)" fill="url(#g5)"/>
<ellipse cx="40" cy="513" rx="40.2" ry="5.8" transform="rotate(0 40 513)" fill="url(#g6)"/>
</g></g>
<g fill="#fff" filter="url(#sb)"><ellipse cx="52" cy="266" rx="9" ry="6" transform="rotate(0 52 266)"/><ellipse cx="35" cy="308" rx="7" ry="24" transform="rotate(8 35 308)"/></g>
</g></g>
<g clip-path="url(#cp10)"><g transform="translate(76,374) scale(0.182857)">
<g fill="#103cff" filter="url(#sb)"><path d="M-5.0,520.0 C-32.2,467.5 -7.8,255.8 -5.0,205.0 C-2.2,154.2 7.5,210.8 12.0,215.0 C16.5,219.2 17.3,228.8 22.0,230.0 C26.7,231.2 33.7,226.2 40.0,222.0 C46.3,217.8 52.5,210.0 60.0,205.0 C67.5,200.0 75.0,194.8 85.0,192.0 C95.0,189.2 109.2,188.3 120.0,188.0 C130.8,187.7 140.8,190.5 150.0,190.0 C159.2,189.5 165.8,186.7 175.0,185.0 C184.2,183.3 195.8,179.5 205.0,180.0 C214.2,180.5 221.7,184.7 230.0,188.0 C238.3,191.3 247.5,196.3 255.0,200.0 C262.5,203.7 269.2,207.0 275.0,210.0 C280.8,213.0 284.2,218.8 290.0,218.0 C295.8,217.2 302.5,210.5 310.0,205.0 C317.5,199.5 327.5,190.8 335.0,185.0 C342.5,179.2 347.8,174.2 355.0,170.0 C362.2,165.8 371.3,160.3 378.0,160.0 C384.7,159.7 389.7,166.0 395.0,168.0 C400.3,170.0 405.8,169.2 410.0,172.0 C414.2,174.8 419.2,179.5 420.0,185.0 C420.8,190.5 417.0,198.3 415.0,205.0 C413.0,211.7 411.3,218.3 408.0,225.0 C404.7,231.7 400.5,238.3 395.0,245.0 C389.5,251.7 381.7,258.3 375.0,265.0 C368.3,271.7 362.5,278.3 355.0,285.0 C347.5,291.7 338.3,298.3 330.0,305.0 C321.7,311.7 313.3,319.2 305.0,325.0 C296.7,330.8 288.3,335.0 280.0,340.0 C271.7,345.0 262.5,350.8 255.0,355.0 C247.5,359.2 241.7,361.7 235.0,365.0 C228.3,368.3 220.0,370.8 215.0,375.0 C210.0,379.2 207.5,384.2 205.0,390.0 C202.5,395.8 203.3,402.5 200.0,410.0 C196.7,417.5 189.7,426.7 185.0,435.0 C180.3,443.3 175.3,450.8 172.0,460.0 C168.7,469.2 167.3,480.0 165.0,490.0 C162.7,500.0 186.3,515.0 158.0,520.0 C129.7,525.0 22.2,572.5 -5.0,520.0 Z"/></g>
<clipPath id="in10"><path d="M-5.0,520.0 C-32.2,467.5 -7.8,255.8 -5.0,205.0 C-2.2,154.2 7.5,210.8 12.0,215.0 C16.5,219.2 17.3,228.8 22.0,230.0 C26.7,231.2 33.7,226.2 40.0,222.0 C46.3,217.8 52.5,210.0 60.0,205.0 C67.5,200.0 75.0,194.8 85.0,192.0 C95.0,189.2 109.2,188.3 120.0,188.0 C130.8,187.7 140.8,190.5 150.0,190.0 C159.2,189.5 165.8,186.7 175.0,185.0 C184.2,183.3 195.8,179.5 205.0,180.0 C214.2,180.5 221.7,184.7 230.0,188.0 C238.3,191.3 247.5,196.3 255.0,200.0 C262.5,203.7 269.2,207.0 275.0,210.0 C280.8,213.0 284.2,218.8 290.0,218.0 C295.8,217.2 302.5,210.5 310.0,205.0 C317.5,199.5 327.5,190.8 335.0,185.0 C342.5,179.2 347.8,174.2 355.0,170.0 C362.2,165.8 371.3,160.3 378.0,160.0 C384.7,159.7 389.7,166.0 395.0,168.0 C400.3,170.0 405.8,169.2 410.0,172.0 C414.2,174.8 419.2,179.5 420.0,185.0 C420.8,190.5 417.0,198.3 415.0,205.0 C413.0,211.7 411.3,218.3 408.0,225.0 C404.7,231.7 400.5,238.3 395.0,245.0 C389.5,251.7 381.7,258.3 375.0,265.0 C368.3,271.7 362.5,278.3 355.0,285.0 C347.5,291.7 338.3,298.3 330.0,305.0 C321.7,311.7 313.3,319.2 305.0,325.0 C296.7,330.8 288.3,335.0 280.0,340.0 C271.7,345.0 262.5,350.8 255.0,355.0 C247.5,359.2 241.7,361.7 235.0,365.0 C228.3,368.3 220.0,370.8 215.0,375.0 C210.0,379.2 207.5,384.2 205.0,390.0 C202.5,395.8 203.3,402.5 200.0,410.0 C196.7,417.5 189.7,426.7 185.0,435.0 C180.3,443.3 175.3,450.8 172.0,460.0 C168.7,469.2 167.3,480.0 165.0,490.0 C162.7,500.0 186.3,515.0 158.0,520.0 C129.7,525.0 22.2,572.5 -5.0,520.0 Z"/></clipPath>
<g clip-path="url(#in10)"><g filter="url(#sb2)">
<ellipse cx="100" cy="290" rx="115.0" ry="92.0" transform="rotate(0 100 290)" fill="url(#g1)"/>
<ellipse cx="250" cy="260" rx="69.0" ry="46.0" transform="rotate(0 250 260)" fill="url(#g1)"/>
<ellipse cx="340" cy="255" rx="51.7" ry="103.5" transform="rotate(40 340 255)" fill="url(#g1)"/>
<ellipse cx="100" cy="440" rx="86.2" ry="92.0" transform="rotate(0 100 440)" fill="url(#g1)"/>
<ellipse cx="105" cy="250" rx="51.7" ry="34.5" transform="rotate(0 105 250)" fill="url(#g2)"/>
<ellipse cx="80" cy="320" rx="57.5" ry="40.2" transform="rotate(0 80 320)" fill="url(#g2)"/>
<ellipse cx="30" cy="300" rx="28.7" ry="57.5" transform="rotate(0 30 300)" fill="url(#g2)"/>
<ellipse cx="355" cy="245" rx="32.2" ry="80.5" transform="rotate(38 355 245)" fill="url(#g2)"/>
<ellipse cx="100" cy="455" rx="69.0" ry="92.0" transform="rotate(0 100 455)" fill="url(#g2)"/>
<ellipse cx="25" cy="430" rx="28.7" ry="46.0" transform="rotate(0 25 430)" fill="url(#g2)"/>
<ellipse cx="115" cy="245" rx="20.7" ry="16.1" transform="rotate(0 115 245)" fill="url(#g3)"/>
<ellipse cx="8" cy="300" rx="13.8" ry="80.5" transform="rotate(0 8 300)" fill="url(#g3)"/>
<ellipse cx="362" cy="242" rx="20.7" ry="59.8" transform="rotate(35 362 242)" fill="url(#g3)"/>
<ellipse cx="100" cy="452" rx="51.7" ry="78.2" transform="rotate(0 100 452)" fill="url(#g3)"/>
<ellipse cx="5" cy="320" rx="8.0" ry="34.5" transform="rotate(0 5 320)" fill="url(#g4)"/>
<ellipse cx="375" cy="235" rx="9.2" ry="25.3" transform="rotate(30 375 235)" fill="url(#g4)"/>
<ellipse cx="100" cy="450" rx="34.5" ry="57.5" transform="rotate(0 100 450)" fill="url(#g4)"/>
<ellipse cx="70" cy="510" rx="51.7" ry="11.5" transform="rotate(0 70 510)" fill="url(#g4)"/>
<ellipse cx="100" cy="446" rx="18.4" ry="32.2" transform="rotate(0 100 446)" fill="url(#g5)"/>
<ellipse cx="50" cy="513" rx="57.5" ry="9.2" transform="rotate(0 50 513)" fill="url(#g5)"/>
<ellipse cx="40" cy="513" rx="34.5" ry="5.8" transform="rotate(0 40 513)" fill="url(#g6)"/>
</g></g>
</g></g>
<g clip-path="url(#cp11)"><g transform="translate(192,374) scale(0.182857)">
<g fill="#103cff" filter="url(#sb)"><path d="M-5.0,520.0 C-31.7,470.8 -9.2,273.0 -5.0,225.0 C-0.8,177.0 12.5,231.5 20.0,232.0 C27.5,232.5 33.3,231.3 40.0,228.0 C46.7,224.7 52.5,216.7 60.0,212.0 C67.5,207.3 75.0,202.8 85.0,200.0 C95.0,197.2 109.2,196.3 120.0,195.0 C130.8,193.7 140.0,192.0 150.0,192.0 C160.0,192.0 170.8,194.5 180.0,195.0 C189.2,195.5 196.7,194.2 205.0,195.0 C213.3,195.8 220.8,197.5 230.0,200.0 C239.2,202.5 250.0,208.0 260.0,210.0 C270.0,212.0 280.8,212.8 290.0,212.0 C299.2,211.2 307.5,209.0 315.0,205.0 C322.5,201.0 327.5,193.0 335.0,188.0 C342.5,183.0 351.7,177.7 360.0,175.0 C368.3,172.3 377.5,170.8 385.0,172.0 C392.5,173.2 400.8,176.5 405.0,182.0 C409.2,187.5 410.0,197.0 410.0,205.0 C410.0,213.0 408.0,221.7 405.0,230.0 C402.0,238.3 397.0,247.5 392.0,255.0 C387.0,262.5 382.0,268.3 375.0,275.0 C368.0,281.7 359.2,287.5 350.0,295.0 C340.8,302.5 329.2,312.5 320.0,320.0 C310.8,327.5 302.5,332.5 295.0,340.0 C287.5,347.5 281.7,358.3 275.0,365.0 C268.3,371.7 262.5,375.0 255.0,380.0 C247.5,385.0 237.5,390.0 230.0,395.0 C222.5,400.0 216.7,405.0 210.0,410.0 C203.3,415.0 195.8,420.0 190.0,425.0 C184.2,430.0 179.2,434.2 175.0,440.0 C170.8,445.8 167.5,452.5 165.0,460.0 C162.5,467.5 161.7,475.0 160.0,485.0 C158.3,495.0 182.5,514.2 155.0,520.0 C127.5,525.8 21.7,569.2 -5.0,520.0 Z"/></g>
<clipPath id="in11"><path d="M-5.0,520.0 C-31.7,470.8 -9.2,273.0 -5.0,225.0 C-0.8,177.0 12.5,231.5 20.0,232.0 C27.5,232.5 33.3,231.3 40.0,228.0 C46.7,224.7 52.5,216.7 60.0,212.0 C67.5,207.3 75.0,202.8 85.0,200.0 C95.0,197.2 109.2,196.3 120.0,195.0 C130.8,193.7 140.0,192.0 150.0,192.0 C160.0,192.0 170.8,194.5 180.0,195.0 C189.2,195.5 196.7,194.2 205.0,195.0 C213.3,195.8 220.8,197.5 230.0,200.0 C239.2,202.5 250.0,208.0 260.0,210.0 C270.0,212.0 280.8,212.8 290.0,212.0 C299.2,211.2 307.5,209.0 315.0,205.0 C322.5,201.0 327.5,193.0 335.0,188.0 C342.5,183.0 351.7,177.7 360.0,175.0 C368.3,172.3 377.5,170.8 385.0,172.0 C392.5,173.2 400.8,176.5 405.0,182.0 C409.2,187.5 410.0,197.0 410.0,205.0 C410.0,213.0 408.0,221.7 405.0,230.0 C402.0,238.3 397.0,247.5 392.0,255.0 C387.0,262.5 382.0,268.3 375.0,275.0 C368.0,281.7 359.2,287.5 350.0,295.0 C340.8,302.5 329.2,312.5 320.0,320.0 C310.8,327.5 302.5,332.5 295.0,340.0 C287.5,347.5 281.7,358.3 275.0,365.0 C268.3,371.7 262.5,375.0 255.0,380.0 C247.5,385.0 237.5,390.0 230.0,395.0 C222.5,400.0 216.7,405.0 210.0,410.0 C203.3,415.0 195.8,420.0 190.0,425.0 C184.2,430.0 179.2,434.2 175.0,440.0 C170.8,445.8 167.5,452.5 165.0,460.0 C162.5,467.5 161.7,475.0 160.0,485.0 C158.3,495.0 182.5,514.2 155.0,520.0 C127.5,525.8 21.7,569.2 -5.0,520.0 Z"/></clipPath>
<g clip-path="url(#in11)"><g filter="url(#sb2)">
<ellipse cx="100" cy="300" rx="103.5" ry="103.5" transform="rotate(0 100 300)" fill="url(#g1)"/>
<ellipse cx="230" cy="265" rx="92.0" ry="63.2" transform="rotate(0 230 265)" fill="url(#g1)"/>
<ellipse cx="335" cy="265" rx="63.2" ry="109.2" transform="rotate(40 335 265)" fill="url(#g1)"/>
<ellipse cx="120" cy="440" rx="74.8" ry="103.5" transform="rotate(0 120 440)" fill="url(#g1)"/>
<ellipse cx="40" cy="470" rx="51.7" ry="57.5" transform="rotate(0 40 470)" fill="url(#g1)"/>
<ellipse cx="100" cy="295" rx="74.8" ry="92.0" transform="rotate(0 100 295)" fill="url(#g2)"/>
<ellipse cx="8" cy="320" rx="25.3" ry="115.0" transform="rotate(0 8 320)" fill="url(#g2)"/>
<ellipse cx="210" cy="245" rx="34.5" ry="20.7" transform="rotate(0 210 245)" fill="url(#g2)"/>
<ellipse cx="250" cy="300" rx="32.2" ry="16.1" transform="rotate(-30 250 300)" fill="url(#g2)"/>
<ellipse cx="340" cy="260" rx="43.7" ry="92.0" transform="rotate(40 340 260)" fill="url(#g2)"/>
<ellipse cx="120" cy="432" rx="59.8" ry="86.2" transform="rotate(0 120 432)" fill="url(#g2)"/>
<ellipse cx="40" cy="470" rx="34.5" ry="46.0" transform="rotate(0 40 470)" fill="url(#g2)"/>
<ellipse cx="230" cy="350" rx="69.0" ry="25.3" transform="rotate(-30 230 350)" fill="url(#g2)"/>
<ellipse cx="40" cy="310" rx="28.7" ry="69.0" transform="rotate(0 40 310)" fill="url(#g2)"/>
<ellipse cx="220" cy="270" rx="80.5" ry="51.7" transform="rotate(0 220 270)" fill="url(#g2)"/>
<ellipse cx="108" cy="295" rx="59.8" ry="85.1" transform="rotate(0 108 295)" fill="url(#g3)"/>
<ellipse cx="6" cy="320" rx="17.2" ry="97.7" transform="rotate(0 6 320)" fill="url(#g3)"/>
<ellipse cx="350" cy="250" rx="28.7" ry="71.3" transform="rotate(40 350 250)" fill="url(#g3)"/>
<ellipse cx="122" cy="428" rx="48.3" ry="71.3" transform="rotate(0 122 428)" fill="url(#g3)"/>
<ellipse cx="60" cy="513" rx="69.0" ry="11.5" transform="rotate(0 60 513)" fill="url(#g3)"/>
<ellipse cx="110" cy="298" rx="17.2" ry="36.8" transform="rotate(0 110 298)" fill="url(#g4)"/>
<ellipse cx="5" cy="320" rx="12.6" ry="80.5" transform="rotate(0 5 320)" fill="url(#g4)"/>
<ellipse cx="360" cy="243" rx="20.7" ry="59.8" transform="rotate(35 360 243)" fill="url(#g4)"/>
<ellipse cx="124" cy="420" rx="34.5" ry="55.2" transform="rotate(0 124 420)" fill="url(#g4)"/>
<ellipse cx="40" cy="513" rx="40.2" ry="9.2" transform="rotate(0 40 513)" fill="url(#g4)"/>
<ellipse cx="100" cy="260" rx="9.2" ry="13.8" transform="rotate(0 100 260)" fill="url(#g4)"/>
<ellipse cx="4" cy="320" rx="9.2" ry="63.2" transform="rotate(0 4 320)" fill="url(#g5)"/>
<ellipse cx="367" cy="238" rx="14.9" ry="43.7" transform="rotate(32 367 238)" fill="url(#g5)"/>
<ellipse cx="125" cy="418" rx="23.0" ry="40.2" transform="rotate(0 125 418)" fill="url(#g5)"/>
<ellipse cx="3" cy="325" rx="5.8" ry="51.7" transform="rotate(0 3 325)" fill="url(#g6)"/>
<ellipse cx="371" cy="236" rx="9.2" ry="29.9" transform="rotate(30 371 236)" fill="url(#g6)"/>
<ellipse cx="126" cy="415" rx="12.6" ry="25.3" transform="rotate(0 126 415)" fill="url(#g6)"/>
</g></g>
</g></g>
<g clip-path="url(#cp12)"><g transform="translate(308,374) scale(0.182857)">
<g fill="#103cff" filter="url(#sb)"><path d="M-5.0,520.0 C-30.0,469.2 -8.3,263.7 -5.0,215.0 C-1.7,166.3 8.3,226.8 15.0,228.0 C21.7,229.2 28.3,225.0 35.0,222.0 C41.7,219.0 47.5,213.7 55.0,210.0 C62.5,206.3 70.8,202.5 80.0,200.0 C89.2,197.5 100.0,195.8 110.0,195.0 C120.0,194.2 130.8,195.0 140.0,195.0 C149.2,195.0 156.7,195.5 165.0,195.0 C173.3,194.5 183.3,194.0 190.0,192.0 C196.7,190.0 200.0,184.7 205.0,183.0 C210.0,181.3 214.2,180.0 220.0,182.0 C225.8,184.0 233.3,191.2 240.0,195.0 C246.7,198.8 253.3,202.5 260.0,205.0 C266.7,207.5 273.3,210.0 280.0,210.0 C286.7,210.0 293.3,207.5 300.0,205.0 C306.7,202.5 312.5,199.2 320.0,195.0 C327.5,190.8 337.5,184.7 345.0,180.0 C352.5,175.3 358.3,168.3 365.0,167.0 C371.7,165.7 378.3,168.2 385.0,172.0 C391.7,175.8 399.2,183.7 405.0,190.0 C410.8,196.3 419.2,203.3 420.0,210.0 C420.8,216.7 414.2,222.5 410.0,230.0 C405.8,237.5 400.8,246.7 395.0,255.0 C389.2,263.3 383.3,272.5 375.0,280.0 C366.7,287.5 355.8,292.5 345.0,300.0 C334.2,307.5 320.0,317.5 310.0,325.0 C300.0,332.5 291.7,337.5 285.0,345.0 C278.3,352.5 276.7,363.3 270.0,370.0 C263.3,376.7 254.2,380.8 245.0,385.0 C235.8,389.2 225.8,390.8 215.0,395.0 C204.2,399.2 188.3,404.2 180.0,410.0 C171.7,415.8 168.7,421.7 165.0,430.0 C161.3,438.3 160.5,450.0 158.0,460.0 C155.5,470.0 152.2,480.0 150.0,490.0 C147.8,500.0 170.8,515.0 145.0,520.0 C119.2,525.0 20.0,570.8 -5.0,520.0 Z"/></g>
<clipPath id="in12"><path d="M-5.0,520.0 C-30.0,469.2 -8.3,263.7 -5.0,215.0 C-1.7,166.3 8.3,226.8 15.0,228.0 C21.7,229.2 28.3,225.0 35.0,222.0 C41.7,219.0 47.5,213.7 55.0,210.0 C62.5,206.3 70.8,202.5 80.0,200.0 C89.2,197.5 100.0,195.8 110.0,195.0 C120.0,194.2 130.8,195.0 140.0,195.0 C149.2,195.0 156.7,195.5 165.0,195.0 C173.3,194.5 183.3,194.0 190.0,192.0 C196.7,190.0 200.0,184.7 205.0,183.0 C210.0,181.3 214.2,180.0 220.0,182.0 C225.8,184.0 233.3,191.2 240.0,195.0 C246.7,198.8 253.3,202.5 260.0,205.0 C266.7,207.5 273.3,210.0 280.0,210.0 C286.7,210.0 293.3,207.5 300.0,205.0 C306.7,202.5 312.5,199.2 320.0,195.0 C327.5,190.8 337.5,184.7 345.0,180.0 C352.5,175.3 358.3,168.3 365.0,167.0 C371.7,165.7 378.3,168.2 385.0,172.0 C391.7,175.8 399.2,183.7 405.0,190.0 C410.8,196.3 419.2,203.3 420.0,210.0 C420.8,216.7 414.2,222.5 410.0,230.0 C405.8,237.5 400.8,246.7 395.0,255.0 C389.2,263.3 383.3,272.5 375.0,280.0 C366.7,287.5 355.8,292.5 345.0,300.0 C334.2,307.5 320.0,317.5 310.0,325.0 C300.0,332.5 291.7,337.5 285.0,345.0 C278.3,352.5 276.7,363.3 270.0,370.0 C263.3,376.7 254.2,380.8 245.0,385.0 C235.8,389.2 225.8,390.8 215.0,395.0 C204.2,399.2 188.3,404.2 180.0,410.0 C171.7,415.8 168.7,421.7 165.0,430.0 C161.3,438.3 160.5,450.0 158.0,460.0 C155.5,470.0 152.2,480.0 150.0,490.0 C147.8,500.0 170.8,515.0 145.0,520.0 C119.2,525.0 20.0,570.8 -5.0,520.0 Z"/></clipPath>
<g clip-path="url(#in12)"><g filter="url(#sb2)">
<ellipse cx="100" cy="300" rx="109.2" ry="109.2" transform="rotate(0 100 300)" fill="url(#g1)"/>
<ellipse cx="230" cy="265" rx="115.0" ry="69.0" transform="rotate(0 230 265)" fill="url(#g1)"/>
<ellipse cx="335" cy="265" rx="63.2" ry="103.5" transform="rotate(40 335 265)" fill="url(#g1)"/>
<ellipse cx="112" cy="435" rx="63.2" ry="97.7" transform="rotate(0 112 435)" fill="url(#g1)"/>
<ellipse cx="40" cy="470" rx="51.7" ry="57.5" transform="rotate(0 40 470)" fill="url(#g1)"/>
<ellipse cx="95" cy="285" rx="74.8" ry="97.7" transform="rotate(0 95 285)" fill="url(#g2)"/>
<ellipse cx="8" cy="320" rx="23.0" ry="115.0" transform="rotate(0 8 320)" fill="url(#g2)"/>
<ellipse cx="220" cy="250" rx="69.0" ry="40.2" transform="rotate(0 220 250)" fill="url(#g2)"/>
<ellipse cx="260" cy="310" rx="46.0" ry="23.0" transform="rotate(-30 260 310)" fill="url(#g2)"/>
<ellipse cx="343" cy="257" rx="46.0" ry="92.0" transform="rotate(40 343 257)" fill="url(#g2)"/>
<ellipse cx="112" cy="428" rx="55.2" ry="86.2" transform="rotate(0 112 428)" fill="url(#g2)"/>
<ellipse cx="40" cy="470" rx="34.5" ry="46.0" transform="rotate(0 40 470)" fill="url(#g2)"/>
<ellipse cx="40" cy="300" rx="28.7" ry="69.0" transform="rotate(0 40 300)" fill="url(#g2)"/>
<ellipse cx="230" cy="262" rx="86.2" ry="51.7" transform="rotate(0 230 262)" fill="url(#g2)"/>
<ellipse cx="95" cy="285" rx="63.2" ry="86.2" transform="rotate(0 95 285)" fill="url(#g3)"/>
<ellipse cx="6" cy="320" rx="16.1" ry="97.7" transform="rotate(0 6 320)" fill="url(#g3)"/>
<ellipse cx="352" cy="250" rx="31.0" ry="74.8" transform="rotate(40 352 250)" fill="url(#g3)"/>
<ellipse cx="115" cy="425" rx="43.7" ry="71.3" transform="rotate(0 115 425)" fill="url(#g3)"/>
<ellipse cx="50" cy="513" rx="57.5" ry="11.5" transform="rotate(0 50 513)" fill="url(#g3)"/>
<ellipse cx="97" cy="276" rx="19.5" ry="34.5" transform="rotate(0 97 276)" fill="url(#g4)"/>
<ellipse cx="5" cy="320" rx="11.5" ry="80.5" transform="rotate(0 5 320)" fill="url(#g4)"/>
<ellipse cx="358" cy="248" rx="27.6" ry="71.3" transform="rotate(35 358 248)" fill="url(#g4)"/>
<ellipse cx="115" cy="420" rx="28.7" ry="51.7" transform="rotate(0 115 420)" fill="url(#g4)"/>
<ellipse cx="40" cy="513" rx="40.2" ry="9.2" transform="rotate(0 40 513)" fill="url(#g4)"/>
<ellipse cx="80" cy="320" rx="9.2" ry="13.8" transform="rotate(0 80 320)" fill="url(#g4)"/>
<ellipse cx="4" cy="320" rx="9.2" ry="63.2" transform="rotate(0 4 320)" fill="url(#g5)"/>
<ellipse cx="366" cy="241" rx="18.4" ry="51.7" transform="rotate(32 366 241)" fill="url(#g5)"/>
<ellipse cx="115" cy="418" rx="16.1" ry="32.2" transform="rotate(0 115 418)" fill="url(#g5)"/>
<ellipse cx="3" cy="320" rx="5.8" ry="51.7" transform="rotate(0 3 320)" fill="url(#g6)"/>
<ellipse cx="371" cy="238" rx="11.5" ry="36.8" transform="rotate(30 371 238)" fill="url(#g6)"/>
</g></g>
</g></g>
<line x1="75.00" y1="352.09" x2="76.50" y2="352.09" stroke="#888" stroke-width="0.7" />
<line x1="83.66" y1="359.20" x2="83.66" y2="360.70" stroke="#666" stroke-width="0.8" />
<line x1="75.00" y1="347.93" x2="76.50" y2="347.93" stroke="#888" stroke-width="0.7" />
<line x1="87.84" y1="359.20" x2="87.84" y2="360.70" stroke="#666" stroke-width="0.8" />
<line x1="75.00" y1="344.98" x2="76.50" y2="344.98" stroke="#888" stroke-width="0.7" />
<line x1="90.81" y1="359.20" x2="90.81" y2="360.70" stroke="#666" stroke-width="0.8" />
<line x1="75.00" y1="342.69" x2="76.50" y2="342.69" stroke="#888" stroke-width="0.7" />
<line x1="93.12" y1="359.20" x2="93.12" y2="360.70" stroke="#666" stroke-width="0.8" />
<line x1="75.00" y1="340.82" x2="76.50" y2="340.82" stroke="#888" stroke-width="0.7" />
<line x1="95.00" y1="359.20" x2="95.00" y2="360.70" stroke="#666" stroke-width="0.8" />
<line x1="75.00" y1="339.23" x2="76.50" y2="339.23" stroke="#888" stroke-width="0.7" />
<line x1="96.59" y1="359.20" x2="96.59" y2="360.70" stroke="#666" stroke-width="0.8" />
<line x1="75.00" y1="337.86" x2="76.50" y2="337.86" stroke="#888" stroke-width="0.7" />
<line x1="97.97" y1="359.20" x2="97.97" y2="360.70" stroke="#666" stroke-width="0.8" />
<line x1="75.00" y1="336.66" x2="76.50" y2="336.66" stroke="#888" stroke-width="0.7" />
<line x1="99.19" y1="359.20" x2="99.19" y2="360.70" stroke="#666" stroke-width="0.8" />
<line x1="75.00" y1="328.46" x2="76.50" y2="328.46" stroke="#888" stroke-width="0.7" />
<line x1="107.43" y1="359.20" x2="107.43" y2="360.70" stroke="#666" stroke-width="0.8" />
<line x1="75.00" y1="324.30" x2="76.50" y2="324.30" stroke="#888" stroke-width="0.7" />
<line x1="111.62" y1="359.20" x2="111.62" y2="360.70" stroke="#666" stroke-width="0.8" />
<line x1="75.00" y1="321.35" x2="76.50" y2="321.35" stroke="#888" stroke-width="0.7" />
<line x1="114.59" y1="359.20" x2="114.59" y2="360.70" stroke="#666" stroke-width="0.8" />
<line x1="75.00" y1="319.06" x2="76.50" y2="319.06" stroke="#888" stroke-width="0.7" />
<line x1="116.89" y1="359.20" x2="116.89" y2="360.70" stroke="#666" stroke-width="0.8" />
<line x1="75.00" y1="317.19" x2="76.50" y2="317.19" stroke="#888" stroke-width="0.7" />
<line x1="118.78" y1="359.20" x2="118.78" y2="360.70" stroke="#666" stroke-width="0.8" />
<line x1="75.00" y1="315.61" x2="76.50" y2="315.61" stroke="#888" stroke-width="0.7" />
<line x1="120.37" y1="359.20" x2="120.37" y2="360.70" stroke="#666" stroke-width="0.8" />
<line x1="75.00" y1="314.24" x2="76.50" y2="314.24" stroke="#888" stroke-width="0.7" />
<line x1="121.75" y1="359.20" x2="121.75" y2="360.70" stroke="#666" stroke-width="0.8" />
<line x1="75.00" y1="313.03" x2="76.50" y2="313.03" stroke="#888" stroke-width="0.7" />
<line x1="122.96" y1="359.20" x2="122.96" y2="360.70" stroke="#666" stroke-width="0.8" />
<line x1="75.00" y1="304.84" x2="76.50" y2="304.84" stroke="#888" stroke-width="0.7" />
<line x1="131.21" y1="359.20" x2="131.21" y2="360.70" stroke="#666" stroke-width="0.8" />
<line x1="75.00" y1="300.68" x2="76.50" y2="300.68" stroke="#888" stroke-width="0.7" />
<line x1="135.39" y1="359.20" x2="135.39" y2="360.70" stroke="#666" stroke-width="0.8" />
<line x1="75.00" y1="297.73" x2="76.50" y2="297.73" stroke="#888" stroke-width="0.7" />
<line x1="138.36" y1="359.20" x2="138.36" y2="360.70" stroke="#666" stroke-width="0.8" />
<line x1="75.00" y1="295.44" x2="76.50" y2="295.44" stroke="#888" stroke-width="0.7" />
<line x1="140.67" y1="359.20" x2="140.67" y2="360.70" stroke="#666" stroke-width="0.8" />
<line x1="75.00" y1="293.57" x2="76.50" y2="293.57" stroke="#888" stroke-width="0.7" />
<line x1="142.55" y1="359.20" x2="142.55" y2="360.70" stroke="#666" stroke-width="0.8" />
<line x1="75.00" y1="291.98" x2="76.50" y2="291.98" stroke="#888" stroke-width="0.7" />
<line x1="144.14" y1="359.20" x2="144.14" y2="360.70" stroke="#666" stroke-width="0.8" />
<line x1="75.00" y1="290.61" x2="76.50" y2="290.61" stroke="#888" stroke-width="0.7" />
<line x1="145.52" y1="359.20" x2="145.52" y2="360.70" stroke="#666" stroke-width="0.8" />
<line x1="75.00" y1="289.41" x2="76.50" y2="289.41" stroke="#888" stroke-width="0.7" />
<line x1="146.74" y1="359.20" x2="146.74" y2="360.70" stroke="#666" stroke-width="0.8" />
<line x1="75.00" y1="281.21" x2="76.50" y2="281.21" stroke="#888" stroke-width="0.7" />
<line x1="154.98" y1="359.20" x2="154.98" y2="360.70" stroke="#666" stroke-width="0.8" />
<line x1="75.00" y1="277.05" x2="76.50" y2="277.05" stroke="#888" stroke-width="0.7" />
<line x1="159.17" y1="359.20" x2="159.17" y2="360.70" stroke="#666" stroke-width="0.8" />
<line x1="75.00" y1="274.10" x2="76.50" y2="274.10" stroke="#888" stroke-width="0.7" />
<line x1="162.14" y1="359.20" x2="162.14" y2="360.70" stroke="#666" stroke-width="0.8" />
<line x1="75.00" y1="271.81" x2="76.50" y2="271.81" stroke="#888" stroke-width="0.7" />
<line x1="164.44" y1="359.20" x2="164.44" y2="360.70" stroke="#666" stroke-width="0.8" />
<line x1="75.00" y1="269.94" x2="76.50" y2="269.94" stroke="#888" stroke-width="0.7" />
<line x1="166.33" y1="359.20" x2="166.33" y2="360.70" stroke="#666" stroke-width="0.8" />
<line x1="75.00" y1="268.36" x2="76.50" y2="268.36" stroke="#888" stroke-width="0.7" />
<line x1="167.92" y1="359.20" x2="167.92" y2="360.70" stroke="#666" stroke-width="0.8" />
<line x1="75.00" y1="266.99" x2="76.50" y2="266.99" stroke="#888" stroke-width="0.7" />
<line x1="169.30" y1="359.20" x2="169.30" y2="360.70" stroke="#666" stroke-width="0.8" />
<line x1="75.00" y1="265.78" x2="76.50" y2="265.78" stroke="#888" stroke-width="0.7" />
<line x1="170.51" y1="359.20" x2="170.51" y2="360.70" stroke="#666" stroke-width="0.8" />
<line x1="74.00" y1="359.20" x2="76.50" y2="359.20" stroke="#777" stroke-width="0.9" />
<line x1="76.50" y1="359.20" x2="76.50" y2="361.70" stroke="#555" stroke-width="0.9" />
<line x1="74.00" y1="335.57" x2="76.50" y2="335.57" stroke="#777" stroke-width="0.9" />
<line x1="100.28" y1="359.20" x2="100.28" y2="361.70" stroke="#555" stroke-width="0.9" />
<line x1="74.00" y1="311.95" x2="76.50" y2="311.95" stroke="#777" stroke-width="0.9" />
<line x1="124.05" y1="359.20" x2="124.05" y2="361.70" stroke="#555" stroke-width="0.9" />
<line x1="74.00" y1="288.32" x2="76.50" y2="288.32" stroke="#777" stroke-width="0.9" />
<line x1="147.82" y1="359.20" x2="147.82" y2="361.70" stroke="#555" stroke-width="0.9" />
<line x1="74.00" y1="264.70" x2="76.50" y2="264.70" stroke="#777" stroke-width="0.9" />
<line x1="171.60" y1="359.20" x2="171.60" y2="361.70" stroke="#555" stroke-width="0.9" />
<line x1="106.30" y1="264.70" x2="106.30" y2="359.20" stroke="#222" stroke-width="1.3" />
<line x1="76.50" y1="334.10" x2="171.60" y2="334.10" stroke="#222" stroke-width="1.3" />
<text x="79.80" y="274.30" font-size="8.8" text-anchor="start" font-weight="normal" font-style="normal" fill="#000" >2.12</text>
<text x="167.40" y="274.30" font-size="8.8" text-anchor="end" font-weight="normal" font-style="normal" fill="#000" >6.87</text>
<text x="79.80" y="355.40" font-size="8.8" text-anchor="start" font-weight="normal" font-style="normal" fill="#000" >90.6</text>
<text x="167.40" y="355.40" font-size="8.8" text-anchor="end" font-weight="normal" font-style="normal" fill="#000" >0.46</text>
<line x1="190.80" y1="352.09" x2="192.30" y2="352.09" stroke="#888" stroke-width="0.7" />
<line x1="199.45" y1="359.20" x2="199.45" y2="360.70" stroke="#666" stroke-width="0.8" />
<line x1="190.80" y1="347.93" x2="192.30" y2="347.93" stroke="#888" stroke-width="0.7" />
<line x1="203.63" y1="359.20" x2="203.63" y2="360.70" stroke="#666" stroke-width="0.8" />
<line x1="190.80" y1="344.98" x2="192.30" y2="344.98" stroke="#888" stroke-width="0.7" />
<line x1="206.60" y1="359.20" x2="206.60" y2="360.70" stroke="#666" stroke-width="0.8" />
<line x1="190.80" y1="342.69" x2="192.30" y2="342.69" stroke="#888" stroke-width="0.7" />
<line x1="208.90" y1="359.20" x2="208.90" y2="360.70" stroke="#666" stroke-width="0.8" />
<line x1="190.80" y1="340.82" x2="192.30" y2="340.82" stroke="#888" stroke-width="0.7" />
<line x1="210.78" y1="359.20" x2="210.78" y2="360.70" stroke="#666" stroke-width="0.8" />
<line x1="190.80" y1="339.23" x2="192.30" y2="339.23" stroke="#888" stroke-width="0.7" />
<line x1="212.37" y1="359.20" x2="212.37" y2="360.70" stroke="#666" stroke-width="0.8" />
<line x1="190.80" y1="337.86" x2="192.30" y2="337.86" stroke="#888" stroke-width="0.7" />
<line x1="213.75" y1="359.20" x2="213.75" y2="360.70" stroke="#666" stroke-width="0.8" />
<line x1="190.80" y1="336.66" x2="192.30" y2="336.66" stroke="#888" stroke-width="0.7" />
<line x1="214.96" y1="359.20" x2="214.96" y2="360.70" stroke="#666" stroke-width="0.8" />
<line x1="190.80" y1="328.46" x2="192.30" y2="328.46" stroke="#888" stroke-width="0.7" />
<line x1="223.20" y1="359.20" x2="223.20" y2="360.70" stroke="#666" stroke-width="0.8" />
<line x1="190.80" y1="324.30" x2="192.30" y2="324.30" stroke="#888" stroke-width="0.7" />
<line x1="227.38" y1="359.20" x2="227.38" y2="360.70" stroke="#666" stroke-width="0.8" />
<line x1="190.80" y1="321.35" x2="192.30" y2="321.35" stroke="#888" stroke-width="0.7" />
<line x1="230.35" y1="359.20" x2="230.35" y2="360.70" stroke="#666" stroke-width="0.8" />
<line x1="190.80" y1="319.06" x2="192.30" y2="319.06" stroke="#888" stroke-width="0.7" />
<line x1="232.65" y1="359.20" x2="232.65" y2="360.70" stroke="#666" stroke-width="0.8" />
<line x1="190.80" y1="317.19" x2="192.30" y2="317.19" stroke="#888" stroke-width="0.7" />
<line x1="234.53" y1="359.20" x2="234.53" y2="360.70" stroke="#666" stroke-width="0.8" />
<line x1="190.80" y1="315.61" x2="192.30" y2="315.61" stroke="#888" stroke-width="0.7" />
<line x1="236.12" y1="359.20" x2="236.12" y2="360.70" stroke="#666" stroke-width="0.8" />
<line x1="190.80" y1="314.24" x2="192.30" y2="314.24" stroke="#888" stroke-width="0.7" />
<line x1="237.50" y1="359.20" x2="237.50" y2="360.70" stroke="#666" stroke-width="0.8" />
<line x1="190.80" y1="313.03" x2="192.30" y2="313.03" stroke="#888" stroke-width="0.7" />
<line x1="238.71" y1="359.20" x2="238.71" y2="360.70" stroke="#666" stroke-width="0.8" />
<line x1="190.80" y1="304.84" x2="192.30" y2="304.84" stroke="#888" stroke-width="0.7" />
<line x1="246.95" y1="359.20" x2="246.95" y2="360.70" stroke="#666" stroke-width="0.8" />
<line x1="190.80" y1="300.68" x2="192.30" y2="300.68" stroke="#888" stroke-width="0.7" />
<line x1="251.13" y1="359.20" x2="251.13" y2="360.70" stroke="#666" stroke-width="0.8" />
<line x1="190.80" y1="297.73" x2="192.30" y2="297.73" stroke="#888" stroke-width="0.7" />
<line x1="254.10" y1="359.20" x2="254.10" y2="360.70" stroke="#666" stroke-width="0.8" />
<line x1="190.80" y1="295.44" x2="192.30" y2="295.44" stroke="#888" stroke-width="0.7" />
<line x1="256.40" y1="359.20" x2="256.40" y2="360.70" stroke="#666" stroke-width="0.8" />
<line x1="190.80" y1="293.57" x2="192.30" y2="293.57" stroke="#888" stroke-width="0.7" />
<line x1="258.28" y1="359.20" x2="258.28" y2="360.70" stroke="#666" stroke-width="0.8" />
<line x1="190.80" y1="291.98" x2="192.30" y2="291.98" stroke="#888" stroke-width="0.7" />
<line x1="259.87" y1="359.20" x2="259.87" y2="360.70" stroke="#666" stroke-width="0.8" />
<line x1="190.80" y1="290.61" x2="192.30" y2="290.61" stroke="#888" stroke-width="0.7" />
<line x1="261.25" y1="359.20" x2="261.25" y2="360.70" stroke="#666" stroke-width="0.8" />
<line x1="190.80" y1="289.41" x2="192.30" y2="289.41" stroke="#888" stroke-width="0.7" />
<line x1="262.46" y1="359.20" x2="262.46" y2="360.70" stroke="#666" stroke-width="0.8" />
<line x1="190.80" y1="281.21" x2="192.30" y2="281.21" stroke="#888" stroke-width="0.7" />
<line x1="270.70" y1="359.20" x2="270.70" y2="360.70" stroke="#666" stroke-width="0.8" />
<line x1="190.80" y1="277.05" x2="192.30" y2="277.05" stroke="#888" stroke-width="0.7" />
<line x1="274.88" y1="359.20" x2="274.88" y2="360.70" stroke="#666" stroke-width="0.8" />
<line x1="190.80" y1="274.10" x2="192.30" y2="274.10" stroke="#888" stroke-width="0.7" />
<line x1="277.85" y1="359.20" x2="277.85" y2="360.70" stroke="#666" stroke-width="0.8" />
<line x1="190.80" y1="271.81" x2="192.30" y2="271.81" stroke="#888" stroke-width="0.7" />
<line x1="280.15" y1="359.20" x2="280.15" y2="360.70" stroke="#666" stroke-width="0.8" />
<line x1="190.80" y1="269.94" x2="192.30" y2="269.94" stroke="#888" stroke-width="0.7" />
<line x1="282.03" y1="359.20" x2="282.03" y2="360.70" stroke="#666" stroke-width="0.8" />
<line x1="190.80" y1="268.36" x2="192.30" y2="268.36" stroke="#888" stroke-width="0.7" />
<line x1="283.62" y1="359.20" x2="283.62" y2="360.70" stroke="#666" stroke-width="0.8" />
<line x1="190.80" y1="266.99" x2="192.30" y2="266.99" stroke="#888" stroke-width="0.7" />
<line x1="285.00" y1="359.20" x2="285.00" y2="360.70" stroke="#666" stroke-width="0.8" />
<line x1="190.80" y1="265.78" x2="192.30" y2="265.78" stroke="#888" stroke-width="0.7" />
<line x1="286.21" y1="359.20" x2="286.21" y2="360.70" stroke="#666" stroke-width="0.8" />
<line x1="189.80" y1="359.20" x2="192.30" y2="359.20" stroke="#777" stroke-width="0.9" />
<line x1="192.30" y1="359.20" x2="192.30" y2="361.70" stroke="#555" stroke-width="0.9" />
<line x1="189.80" y1="335.57" x2="192.30" y2="335.57" stroke="#777" stroke-width="0.9" />
<line x1="216.05" y1="359.20" x2="216.05" y2="361.70" stroke="#555" stroke-width="0.9" />
<line x1="189.80" y1="311.95" x2="192.30" y2="311.95" stroke="#777" stroke-width="0.9" />
<line x1="239.80" y1="359.20" x2="239.80" y2="361.70" stroke="#555" stroke-width="0.9" />
<line x1="189.80" y1="288.32" x2="192.30" y2="288.32" stroke="#777" stroke-width="0.9" />
<line x1="263.55" y1="359.20" x2="263.55" y2="361.70" stroke="#555" stroke-width="0.9" />
<line x1="189.80" y1="264.70" x2="192.30" y2="264.70" stroke="#777" stroke-width="0.9" />
<line x1="287.30" y1="359.20" x2="287.30" y2="361.70" stroke="#555" stroke-width="0.9" />
<line x1="222.00" y1="264.70" x2="222.00" y2="359.20" stroke="#222" stroke-width="1.3" />
<line x1="192.30" y1="333.60" x2="287.30" y2="333.60" stroke="#222" stroke-width="1.3" />
<text x="195.60" y="274.30" font-size="8.8" text-anchor="start" font-weight="normal" font-style="normal" fill="#000" >7.15</text>
<text x="283.10" y="274.30" font-size="8.8" text-anchor="end" font-weight="normal" font-style="normal" fill="#000" >4.98</text>
<text x="195.60" y="355.40" font-size="8.8" text-anchor="start" font-weight="normal" font-style="normal" fill="#000" >87.2</text>
<text x="283.10" y="355.40" font-size="8.8" text-anchor="end" font-weight="normal" font-style="normal" fill="#000" >0.69</text>
<line x1="306.90" y1="352.09" x2="308.40" y2="352.09" stroke="#888" stroke-width="0.7" />
<line x1="315.64" y1="359.20" x2="315.64" y2="360.70" stroke="#666" stroke-width="0.8" />
<line x1="306.90" y1="347.93" x2="308.40" y2="347.93" stroke="#888" stroke-width="0.7" />
<line x1="319.87" y1="359.20" x2="319.87" y2="360.70" stroke="#666" stroke-width="0.8" />
<line x1="306.90" y1="344.98" x2="308.40" y2="344.98" stroke="#888" stroke-width="0.7" />
<line x1="322.88" y1="359.20" x2="322.88" y2="360.70" stroke="#666" stroke-width="0.8" />
<line x1="306.90" y1="342.69" x2="308.40" y2="342.69" stroke="#888" stroke-width="0.7" />
<line x1="325.21" y1="359.20" x2="325.21" y2="360.70" stroke="#666" stroke-width="0.8" />
<line x1="306.90" y1="340.82" x2="308.40" y2="340.82" stroke="#888" stroke-width="0.7" />
<line x1="327.11" y1="359.20" x2="327.11" y2="360.70" stroke="#666" stroke-width="0.8" />
<line x1="306.90" y1="339.23" x2="308.40" y2="339.23" stroke="#888" stroke-width="0.7" />
<line x1="328.72" y1="359.20" x2="328.72" y2="360.70" stroke="#666" stroke-width="0.8" />
<line x1="306.90" y1="337.86" x2="308.40" y2="337.86" stroke="#888" stroke-width="0.7" />
<line x1="330.12" y1="359.20" x2="330.12" y2="360.70" stroke="#666" stroke-width="0.8" />
<line x1="306.90" y1="336.66" x2="308.40" y2="336.66" stroke="#888" stroke-width="0.7" />
<line x1="331.35" y1="359.20" x2="331.35" y2="360.70" stroke="#666" stroke-width="0.8" />
<line x1="306.90" y1="328.46" x2="308.40" y2="328.46" stroke="#888" stroke-width="0.7" />
<line x1="339.69" y1="359.20" x2="339.69" y2="360.70" stroke="#666" stroke-width="0.8" />
<line x1="306.90" y1="324.30" x2="308.40" y2="324.30" stroke="#888" stroke-width="0.7" />
<line x1="343.92" y1="359.20" x2="343.92" y2="360.70" stroke="#666" stroke-width="0.8" />
<line x1="306.90" y1="321.35" x2="308.40" y2="321.35" stroke="#888" stroke-width="0.7" />
<line x1="346.93" y1="359.20" x2="346.93" y2="360.70" stroke="#666" stroke-width="0.8" />
<line x1="306.90" y1="319.06" x2="308.40" y2="319.06" stroke="#888" stroke-width="0.7" />
<line x1="349.26" y1="359.20" x2="349.26" y2="360.70" stroke="#666" stroke-width="0.8" />
<line x1="306.90" y1="317.19" x2="308.40" y2="317.19" stroke="#888" stroke-width="0.7" />
<line x1="351.16" y1="359.20" x2="351.16" y2="360.70" stroke="#666" stroke-width="0.8" />
<line x1="306.90" y1="315.61" x2="308.40" y2="315.61" stroke="#888" stroke-width="0.7" />
<line x1="352.77" y1="359.20" x2="352.77" y2="360.70" stroke="#666" stroke-width="0.8" />
<line x1="306.90" y1="314.24" x2="308.40" y2="314.24" stroke="#888" stroke-width="0.7" />
<line x1="354.17" y1="359.20" x2="354.17" y2="360.70" stroke="#666" stroke-width="0.8" />
<line x1="306.90" y1="313.03" x2="308.40" y2="313.03" stroke="#888" stroke-width="0.7" />
<line x1="355.40" y1="359.20" x2="355.40" y2="360.70" stroke="#666" stroke-width="0.8" />
<line x1="306.90" y1="304.84" x2="308.40" y2="304.84" stroke="#888" stroke-width="0.7" />
<line x1="363.74" y1="359.20" x2="363.74" y2="360.70" stroke="#666" stroke-width="0.8" />
<line x1="306.90" y1="300.68" x2="308.40" y2="300.68" stroke="#888" stroke-width="0.7" />
<line x1="367.97" y1="359.20" x2="367.97" y2="360.70" stroke="#666" stroke-width="0.8" />
<line x1="306.90" y1="297.73" x2="308.40" y2="297.73" stroke="#888" stroke-width="0.7" />
<line x1="370.98" y1="359.20" x2="370.98" y2="360.70" stroke="#666" stroke-width="0.8" />
<line x1="306.90" y1="295.44" x2="308.40" y2="295.44" stroke="#888" stroke-width="0.7" />
<line x1="373.31" y1="359.20" x2="373.31" y2="360.70" stroke="#666" stroke-width="0.8" />
<line x1="306.90" y1="293.57" x2="308.40" y2="293.57" stroke="#888" stroke-width="0.7" />
<line x1="375.21" y1="359.20" x2="375.21" y2="360.70" stroke="#666" stroke-width="0.8" />
<line x1="306.90" y1="291.98" x2="308.40" y2="291.98" stroke="#888" stroke-width="0.7" />
<line x1="376.82" y1="359.20" x2="376.82" y2="360.70" stroke="#666" stroke-width="0.8" />
<line x1="306.90" y1="290.61" x2="308.40" y2="290.61" stroke="#888" stroke-width="0.7" />
<line x1="378.22" y1="359.20" x2="378.22" y2="360.70" stroke="#666" stroke-width="0.8" />
<line x1="306.90" y1="289.41" x2="308.40" y2="289.41" stroke="#888" stroke-width="0.7" />
<line x1="379.45" y1="359.20" x2="379.45" y2="360.70" stroke="#666" stroke-width="0.8" />
<line x1="306.90" y1="281.21" x2="308.40" y2="281.21" stroke="#888" stroke-width="0.7" />
<line x1="387.79" y1="359.20" x2="387.79" y2="360.70" stroke="#666" stroke-width="0.8" />
<line x1="306.90" y1="277.05" x2="308.40" y2="277.05" stroke="#888" stroke-width="0.7" />
<line x1="392.02" y1="359.20" x2="392.02" y2="360.70" stroke="#666" stroke-width="0.8" />
<line x1="306.90" y1="274.10" x2="308.40" y2="274.10" stroke="#888" stroke-width="0.7" />
<line x1="395.03" y1="359.20" x2="395.03" y2="360.70" stroke="#666" stroke-width="0.8" />
<line x1="306.90" y1="271.81" x2="308.40" y2="271.81" stroke="#888" stroke-width="0.7" />
<line x1="397.36" y1="359.20" x2="397.36" y2="360.70" stroke="#666" stroke-width="0.8" />
<line x1="306.90" y1="269.94" x2="308.40" y2="269.94" stroke="#888" stroke-width="0.7" />
<line x1="399.26" y1="359.20" x2="399.26" y2="360.70" stroke="#666" stroke-width="0.8" />
<line x1="306.90" y1="268.36" x2="308.40" y2="268.36" stroke="#888" stroke-width="0.7" />
<line x1="400.87" y1="359.20" x2="400.87" y2="360.70" stroke="#666" stroke-width="0.8" />
<line x1="306.90" y1="266.99" x2="308.40" y2="266.99" stroke="#888" stroke-width="0.7" />
<line x1="402.27" y1="359.20" x2="402.27" y2="360.70" stroke="#666" stroke-width="0.8" />
<line x1="306.90" y1="265.78" x2="308.40" y2="265.78" stroke="#888" stroke-width="0.7" />
<line x1="403.50" y1="359.20" x2="403.50" y2="360.70" stroke="#666" stroke-width="0.8" />
<line x1="305.90" y1="359.20" x2="308.40" y2="359.20" stroke="#777" stroke-width="0.9" />
<line x1="308.40" y1="359.20" x2="308.40" y2="361.70" stroke="#555" stroke-width="0.9" />
<line x1="305.90" y1="335.57" x2="308.40" y2="335.57" stroke="#777" stroke-width="0.9" />
<line x1="332.45" y1="359.20" x2="332.45" y2="361.70" stroke="#555" stroke-width="0.9" />
<line x1="305.90" y1="311.95" x2="308.40" y2="311.95" stroke="#777" stroke-width="0.9" />
<line x1="356.50" y1="359.20" x2="356.50" y2="361.70" stroke="#555" stroke-width="0.9" />
<line x1="305.90" y1="288.32" x2="308.40" y2="288.32" stroke="#777" stroke-width="0.9" />
<line x1="380.55" y1="359.20" x2="380.55" y2="361.70" stroke="#555" stroke-width="0.9" />
<line x1="305.90" y1="264.70" x2="308.40" y2="264.70" stroke="#777" stroke-width="0.9" />
<line x1="404.60" y1="359.20" x2="404.60" y2="361.70" stroke="#555" stroke-width="0.9" />
<line x1="338.40" y1="264.70" x2="338.40" y2="359.20" stroke="#222" stroke-width="1.3" />
<line x1="308.40" y1="333.60" x2="404.60" y2="333.60" stroke="#222" stroke-width="1.3" />
<text x="311.70" y="274.30" font-size="8.8" text-anchor="start" font-weight="normal" font-style="normal" fill="#000" >4.42</text>
<text x="400.40" y="274.30" font-size="8.8" text-anchor="end" font-weight="normal" font-style="normal" fill="#000" >4.83</text>
<text x="311.70" y="355.40" font-size="8.8" text-anchor="start" font-weight="normal" font-style="normal" fill="#000" >90.1</text>
<text x="400.40" y="355.40" font-size="8.8" text-anchor="end" font-weight="normal" font-style="normal" fill="#000" >0.68</text>
<line x1="75.00" y1="461.79" x2="76.50" y2="461.79" stroke="#888" stroke-width="0.7" />
<line x1="83.66" y1="468.90" x2="83.66" y2="470.40" stroke="#666" stroke-width="0.8" />
<line x1="75.00" y1="457.63" x2="76.50" y2="457.63" stroke="#888" stroke-width="0.7" />
<line x1="87.84" y1="468.90" x2="87.84" y2="470.40" stroke="#666" stroke-width="0.8" />
<line x1="75.00" y1="454.68" x2="76.50" y2="454.68" stroke="#888" stroke-width="0.7" />
<line x1="90.81" y1="468.90" x2="90.81" y2="470.40" stroke="#666" stroke-width="0.8" />
<line x1="75.00" y1="452.39" x2="76.50" y2="452.39" stroke="#888" stroke-width="0.7" />
<line x1="93.12" y1="468.90" x2="93.12" y2="470.40" stroke="#666" stroke-width="0.8" />
<line x1="75.00" y1="450.52" x2="76.50" y2="450.52" stroke="#888" stroke-width="0.7" />
<line x1="95.00" y1="468.90" x2="95.00" y2="470.40" stroke="#666" stroke-width="0.8" />
<line x1="75.00" y1="448.93" x2="76.50" y2="448.93" stroke="#888" stroke-width="0.7" />
<line x1="96.59" y1="468.90" x2="96.59" y2="470.40" stroke="#666" stroke-width="0.8" />
<line x1="75.00" y1="447.56" x2="76.50" y2="447.56" stroke="#888" stroke-width="0.7" />
<line x1="97.97" y1="468.90" x2="97.97" y2="470.40" stroke="#666" stroke-width="0.8" />
<line x1="75.00" y1="446.36" x2="76.50" y2="446.36" stroke="#888" stroke-width="0.7" />
<line x1="99.19" y1="468.90" x2="99.19" y2="470.40" stroke="#666" stroke-width="0.8" />
<line x1="75.00" y1="438.16" x2="76.50" y2="438.16" stroke="#888" stroke-width="0.7" />
<line x1="107.43" y1="468.90" x2="107.43" y2="470.40" stroke="#666" stroke-width="0.8" />
<line x1="75.00" y1="434.00" x2="76.50" y2="434.00" stroke="#888" stroke-width="0.7" />
<line x1="111.62" y1="468.90" x2="111.62" y2="470.40" stroke="#666" stroke-width="0.8" />
<line x1="75.00" y1="431.05" x2="76.50" y2="431.05" stroke="#888" stroke-width="0.7" />
<line x1="114.59" y1="468.90" x2="114.59" y2="470.40" stroke="#666" stroke-width="0.8" />
<line x1="75.00" y1="428.76" x2="76.50" y2="428.76" stroke="#888" stroke-width="0.7" />
<line x1="116.89" y1="468.90" x2="116.89" y2="470.40" stroke="#666" stroke-width="0.8" />
<line x1="75.00" y1="426.89" x2="76.50" y2="426.89" stroke="#888" stroke-width="0.7" />
<line x1="118.78" y1="468.90" x2="118.78" y2="470.40" stroke="#666" stroke-width="0.8" />
<line x1="75.00" y1="425.31" x2="76.50" y2="425.31" stroke="#888" stroke-width="0.7" />
<line x1="120.37" y1="468.90" x2="120.37" y2="470.40" stroke="#666" stroke-width="0.8" />
<line x1="75.00" y1="423.94" x2="76.50" y2="423.94" stroke="#888" stroke-width="0.7" />
<line x1="121.75" y1="468.90" x2="121.75" y2="470.40" stroke="#666" stroke-width="0.8" />
<line x1="75.00" y1="422.73" x2="76.50" y2="422.73" stroke="#888" stroke-width="0.7" />
<line x1="122.96" y1="468.90" x2="122.96" y2="470.40" stroke="#666" stroke-width="0.8" />
<line x1="75.00" y1="414.54" x2="76.50" y2="414.54" stroke="#888" stroke-width="0.7" />
<line x1="131.21" y1="468.90" x2="131.21" y2="470.40" stroke="#666" stroke-width="0.8" />
<line x1="75.00" y1="410.38" x2="76.50" y2="410.38" stroke="#888" stroke-width="0.7" />
<line x1="135.39" y1="468.90" x2="135.39" y2="470.40" stroke="#666" stroke-width="0.8" />
<line x1="75.00" y1="407.43" x2="76.50" y2="407.43" stroke="#888" stroke-width="0.7" />
<line x1="138.36" y1="468.90" x2="138.36" y2="470.40" stroke="#666" stroke-width="0.8" />
<line x1="75.00" y1="405.14" x2="76.50" y2="405.14" stroke="#888" stroke-width="0.7" />
<line x1="140.67" y1="468.90" x2="140.67" y2="470.40" stroke="#666" stroke-width="0.8" />
<line x1="75.00" y1="403.27" x2="76.50" y2="403.27" stroke="#888" stroke-width="0.7" />
<line x1="142.55" y1="468.90" x2="142.55" y2="470.40" stroke="#666" stroke-width="0.8" />
<line x1="75.00" y1="401.68" x2="76.50" y2="401.68" stroke="#888" stroke-width="0.7" />
<line x1="144.14" y1="468.90" x2="144.14" y2="470.40" stroke="#666" stroke-width="0.8" />
<line x1="75.00" y1="400.31" x2="76.50" y2="400.31" stroke="#888" stroke-width="0.7" />
<line x1="145.52" y1="468.90" x2="145.52" y2="470.40" stroke="#666" stroke-width="0.8" />
<line x1="75.00" y1="399.11" x2="76.50" y2="399.11" stroke="#888" stroke-width="0.7" />
<line x1="146.74" y1="468.90" x2="146.74" y2="470.40" stroke="#666" stroke-width="0.8" />
<line x1="75.00" y1="390.91" x2="76.50" y2="390.91" stroke="#888" stroke-width="0.7" />
<line x1="154.98" y1="468.90" x2="154.98" y2="470.40" stroke="#666" stroke-width="0.8" />
<line x1="75.00" y1="386.75" x2="76.50" y2="386.75" stroke="#888" stroke-width="0.7" />
<line x1="159.17" y1="468.90" x2="159.17" y2="470.40" stroke="#666" stroke-width="0.8" />
<line x1="75.00" y1="383.80" x2="76.50" y2="383.80" stroke="#888" stroke-width="0.7" />
<line x1="162.14" y1="468.90" x2="162.14" y2="470.40" stroke="#666" stroke-width="0.8" />
<line x1="75.00" y1="381.51" x2="76.50" y2="381.51" stroke="#888" stroke-width="0.7" />
<line x1="164.44" y1="468.90" x2="164.44" y2="470.40" stroke="#666" stroke-width="0.8" />
<line x1="75.00" y1="379.64" x2="76.50" y2="379.64" stroke="#888" stroke-width="0.7" />
<line x1="166.33" y1="468.90" x2="166.33" y2="470.40" stroke="#666" stroke-width="0.8" />
<line x1="75.00" y1="378.06" x2="76.50" y2="378.06" stroke="#888" stroke-width="0.7" />
<line x1="167.92" y1="468.90" x2="167.92" y2="470.40" stroke="#666" stroke-width="0.8" />
<line x1="75.00" y1="376.69" x2="76.50" y2="376.69" stroke="#888" stroke-width="0.7" />
<line x1="169.30" y1="468.90" x2="169.30" y2="470.40" stroke="#666" stroke-width="0.8" />
<line x1="75.00" y1="375.48" x2="76.50" y2="375.48" stroke="#888" stroke-width="0.7" />
<line x1="170.51" y1="468.90" x2="170.51" y2="470.40" stroke="#666" stroke-width="0.8" />
<line x1="74.00" y1="468.90" x2="76.50" y2="468.90" stroke="#777" stroke-width="0.9" />
<line x1="76.50" y1="468.90" x2="76.50" y2="471.40" stroke="#555" stroke-width="0.9" />
<line x1="74.00" y1="445.27" x2="76.50" y2="445.27" stroke="#777" stroke-width="0.9" />
<line x1="100.28" y1="468.90" x2="100.28" y2="471.40" stroke="#555" stroke-width="0.9" />
<line x1="74.00" y1="421.65" x2="76.50" y2="421.65" stroke="#777" stroke-width="0.9" />
<line x1="124.05" y1="468.90" x2="124.05" y2="471.40" stroke="#555" stroke-width="0.9" />
<line x1="74.00" y1="398.02" x2="76.50" y2="398.02" stroke="#777" stroke-width="0.9" />
<line x1="147.82" y1="468.90" x2="147.82" y2="471.40" stroke="#555" stroke-width="0.9" />
<line x1="74.00" y1="374.40" x2="76.50" y2="374.40" stroke="#777" stroke-width="0.9" />
<line x1="171.60" y1="468.90" x2="171.60" y2="471.40" stroke="#555" stroke-width="0.9" />
<line x1="106.50" y1="374.40" x2="106.50" y2="468.90" stroke="#222" stroke-width="1.3" />
<line x1="76.50" y1="443.30" x2="171.60" y2="443.30" stroke="#222" stroke-width="1.3" />
<text x="79.80" y="384.00" font-size="8.8" text-anchor="start" font-weight="normal" font-style="normal" fill="#000" >16.6</text>
<text x="167.40" y="384.00" font-size="8.8" text-anchor="end" font-weight="normal" font-style="normal" fill="#000" >23</text>
<text x="79.80" y="465.10" font-size="8.8" text-anchor="start" font-weight="normal" font-style="normal" fill="#000" >58.9</text>
<text x="167.40" y="465.10" font-size="8.8" text-anchor="end" font-weight="normal" font-style="normal" fill="#000" >1.48</text>
<line x1="190.80" y1="461.79" x2="192.30" y2="461.79" stroke="#888" stroke-width="0.7" />
<line x1="199.45" y1="468.90" x2="199.45" y2="470.40" stroke="#666" stroke-width="0.8" />
<line x1="190.80" y1="457.63" x2="192.30" y2="457.63" stroke="#888" stroke-width="0.7" />
<line x1="203.63" y1="468.90" x2="203.63" y2="470.40" stroke="#666" stroke-width="0.8" />
<line x1="190.80" y1="454.68" x2="192.30" y2="454.68" stroke="#888" stroke-width="0.7" />
<line x1="206.60" y1="468.90" x2="206.60" y2="470.40" stroke="#666" stroke-width="0.8" />
<line x1="190.80" y1="452.39" x2="192.30" y2="452.39" stroke="#888" stroke-width="0.7" />
<line x1="208.90" y1="468.90" x2="208.90" y2="470.40" stroke="#666" stroke-width="0.8" />
<line x1="190.80" y1="450.52" x2="192.30" y2="450.52" stroke="#888" stroke-width="0.7" />
<line x1="210.78" y1="468.90" x2="210.78" y2="470.40" stroke="#666" stroke-width="0.8" />
<line x1="190.80" y1="448.93" x2="192.30" y2="448.93" stroke="#888" stroke-width="0.7" />
<line x1="212.37" y1="468.90" x2="212.37" y2="470.40" stroke="#666" stroke-width="0.8" />
<line x1="190.80" y1="447.56" x2="192.30" y2="447.56" stroke="#888" stroke-width="0.7" />
<line x1="213.75" y1="468.90" x2="213.75" y2="470.40" stroke="#666" stroke-width="0.8" />
<line x1="190.80" y1="446.36" x2="192.30" y2="446.36" stroke="#888" stroke-width="0.7" />
<line x1="214.96" y1="468.90" x2="214.96" y2="470.40" stroke="#666" stroke-width="0.8" />
<line x1="190.80" y1="438.16" x2="192.30" y2="438.16" stroke="#888" stroke-width="0.7" />
<line x1="223.20" y1="468.90" x2="223.20" y2="470.40" stroke="#666" stroke-width="0.8" />
<line x1="190.80" y1="434.00" x2="192.30" y2="434.00" stroke="#888" stroke-width="0.7" />
<line x1="227.38" y1="468.90" x2="227.38" y2="470.40" stroke="#666" stroke-width="0.8" />
<line x1="190.80" y1="431.05" x2="192.30" y2="431.05" stroke="#888" stroke-width="0.7" />
<line x1="230.35" y1="468.90" x2="230.35" y2="470.40" stroke="#666" stroke-width="0.8" />
<line x1="190.80" y1="428.76" x2="192.30" y2="428.76" stroke="#888" stroke-width="0.7" />
<line x1="232.65" y1="468.90" x2="232.65" y2="470.40" stroke="#666" stroke-width="0.8" />
<line x1="190.80" y1="426.89" x2="192.30" y2="426.89" stroke="#888" stroke-width="0.7" />
<line x1="234.53" y1="468.90" x2="234.53" y2="470.40" stroke="#666" stroke-width="0.8" />
<line x1="190.80" y1="425.31" x2="192.30" y2="425.31" stroke="#888" stroke-width="0.7" />
<line x1="236.12" y1="468.90" x2="236.12" y2="470.40" stroke="#666" stroke-width="0.8" />
<line x1="190.80" y1="423.94" x2="192.30" y2="423.94" stroke="#888" stroke-width="0.7" />
<line x1="237.50" y1="468.90" x2="237.50" y2="470.40" stroke="#666" stroke-width="0.8" />
<line x1="190.80" y1="422.73" x2="192.30" y2="422.73" stroke="#888" stroke-width="0.7" />
<line x1="238.71" y1="468.90" x2="238.71" y2="470.40" stroke="#666" stroke-width="0.8" />
<line x1="190.80" y1="414.54" x2="192.30" y2="414.54" stroke="#888" stroke-width="0.7" />
<line x1="246.95" y1="468.90" x2="246.95" y2="470.40" stroke="#666" stroke-width="0.8" />
<line x1="190.80" y1="410.38" x2="192.30" y2="410.38" stroke="#888" stroke-width="0.7" />
<line x1="251.13" y1="468.90" x2="251.13" y2="470.40" stroke="#666" stroke-width="0.8" />
<line x1="190.80" y1="407.43" x2="192.30" y2="407.43" stroke="#888" stroke-width="0.7" />
<line x1="254.10" y1="468.90" x2="254.10" y2="470.40" stroke="#666" stroke-width="0.8" />
<line x1="190.80" y1="405.14" x2="192.30" y2="405.14" stroke="#888" stroke-width="0.7" />
<line x1="256.40" y1="468.90" x2="256.40" y2="470.40" stroke="#666" stroke-width="0.8" />
<line x1="190.80" y1="403.27" x2="192.30" y2="403.27" stroke="#888" stroke-width="0.7" />
<line x1="258.28" y1="468.90" x2="258.28" y2="470.40" stroke="#666" stroke-width="0.8" />
<line x1="190.80" y1="401.68" x2="192.30" y2="401.68" stroke="#888" stroke-width="0.7" />
<line x1="259.87" y1="468.90" x2="259.87" y2="470.40" stroke="#666" stroke-width="0.8" />
<line x1="190.80" y1="400.31" x2="192.30" y2="400.31" stroke="#888" stroke-width="0.7" />
<line x1="261.25" y1="468.90" x2="261.25" y2="470.40" stroke="#666" stroke-width="0.8" />
<line x1="190.80" y1="399.11" x2="192.30" y2="399.11" stroke="#888" stroke-width="0.7" />
<line x1="262.46" y1="468.90" x2="262.46" y2="470.40" stroke="#666" stroke-width="0.8" />
<line x1="190.80" y1="390.91" x2="192.30" y2="390.91" stroke="#888" stroke-width="0.7" />
<line x1="270.70" y1="468.90" x2="270.70" y2="470.40" stroke="#666" stroke-width="0.8" />
<line x1="190.80" y1="386.75" x2="192.30" y2="386.75" stroke="#888" stroke-width="0.7" />
<line x1="274.88" y1="468.90" x2="274.88" y2="470.40" stroke="#666" stroke-width="0.8" />
<line x1="190.80" y1="383.80" x2="192.30" y2="383.80" stroke="#888" stroke-width="0.7" />
<line x1="277.85" y1="468.90" x2="277.85" y2="470.40" stroke="#666" stroke-width="0.8" />
<line x1="190.80" y1="381.51" x2="192.30" y2="381.51" stroke="#888" stroke-width="0.7" />
<line x1="280.15" y1="468.90" x2="280.15" y2="470.40" stroke="#666" stroke-width="0.8" />
<line x1="190.80" y1="379.64" x2="192.30" y2="379.64" stroke="#888" stroke-width="0.7" />
<line x1="282.03" y1="468.90" x2="282.03" y2="470.40" stroke="#666" stroke-width="0.8" />
<line x1="190.80" y1="378.06" x2="192.30" y2="378.06" stroke="#888" stroke-width="0.7" />
<line x1="283.62" y1="468.90" x2="283.62" y2="470.40" stroke="#666" stroke-width="0.8" />
<line x1="190.80" y1="376.69" x2="192.30" y2="376.69" stroke="#888" stroke-width="0.7" />
<line x1="285.00" y1="468.90" x2="285.00" y2="470.40" stroke="#666" stroke-width="0.8" />
<line x1="190.80" y1="375.48" x2="192.30" y2="375.48" stroke="#888" stroke-width="0.7" />
<line x1="286.21" y1="468.90" x2="286.21" y2="470.40" stroke="#666" stroke-width="0.8" />
<line x1="189.80" y1="468.90" x2="192.30" y2="468.90" stroke="#777" stroke-width="0.9" />
<line x1="192.30" y1="468.90" x2="192.30" y2="471.40" stroke="#555" stroke-width="0.9" />
<line x1="189.80" y1="445.27" x2="192.30" y2="445.27" stroke="#777" stroke-width="0.9" />
<line x1="216.05" y1="468.90" x2="216.05" y2="471.40" stroke="#555" stroke-width="0.9" />
<line x1="189.80" y1="421.65" x2="192.30" y2="421.65" stroke="#777" stroke-width="0.9" />
<line x1="239.80" y1="468.90" x2="239.80" y2="471.40" stroke="#555" stroke-width="0.9" />
<line x1="189.80" y1="398.02" x2="192.30" y2="398.02" stroke="#777" stroke-width="0.9" />
<line x1="263.55" y1="468.90" x2="263.55" y2="471.40" stroke="#555" stroke-width="0.9" />
<line x1="189.80" y1="374.40" x2="192.30" y2="374.40" stroke="#777" stroke-width="0.9" />
<line x1="287.30" y1="468.90" x2="287.30" y2="471.40" stroke="#555" stroke-width="0.9" />
<line x1="222.30" y1="374.40" x2="222.30" y2="468.90" stroke="#222" stroke-width="1.3" />
<line x1="192.30" y1="442.50" x2="287.30" y2="442.50" stroke="#222" stroke-width="1.3" />
<text x="195.60" y="384.00" font-size="8.8" text-anchor="start" font-weight="normal" font-style="normal" fill="#000" >32.4</text>
<text x="283.10" y="384.00" font-size="8.8" text-anchor="end" font-weight="normal" font-style="normal" fill="#000" >36.1</text>
<text x="195.60" y="465.10" font-size="8.8" text-anchor="start" font-weight="normal" font-style="normal" fill="#000" >28.9</text>
<text x="283.10" y="465.10" font-size="8.8" text-anchor="end" font-weight="normal" font-style="normal" fill="#000" >2.65</text>
<line x1="306.90" y1="461.79" x2="308.40" y2="461.79" stroke="#888" stroke-width="0.7" />
<line x1="315.64" y1="468.90" x2="315.64" y2="470.40" stroke="#666" stroke-width="0.8" />
<line x1="306.90" y1="457.63" x2="308.40" y2="457.63" stroke="#888" stroke-width="0.7" />
<line x1="319.87" y1="468.90" x2="319.87" y2="470.40" stroke="#666" stroke-width="0.8" />
<line x1="306.90" y1="454.68" x2="308.40" y2="454.68" stroke="#888" stroke-width="0.7" />
<line x1="322.88" y1="468.90" x2="322.88" y2="470.40" stroke="#666" stroke-width="0.8" />
<line x1="306.90" y1="452.39" x2="308.40" y2="452.39" stroke="#888" stroke-width="0.7" />
<line x1="325.21" y1="468.90" x2="325.21" y2="470.40" stroke="#666" stroke-width="0.8" />
<line x1="306.90" y1="450.52" x2="308.40" y2="450.52" stroke="#888" stroke-width="0.7" />
<line x1="327.11" y1="468.90" x2="327.11" y2="470.40" stroke="#666" stroke-width="0.8" />
<line x1="306.90" y1="448.93" x2="308.40" y2="448.93" stroke="#888" stroke-width="0.7" />
<line x1="328.72" y1="468.90" x2="328.72" y2="470.40" stroke="#666" stroke-width="0.8" />
<line x1="306.90" y1="447.56" x2="308.40" y2="447.56" stroke="#888" stroke-width="0.7" />
<line x1="330.12" y1="468.90" x2="330.12" y2="470.40" stroke="#666" stroke-width="0.8" />
<line x1="306.90" y1="446.36" x2="308.40" y2="446.36" stroke="#888" stroke-width="0.7" />
<line x1="331.35" y1="468.90" x2="331.35" y2="470.40" stroke="#666" stroke-width="0.8" />
<line x1="306.90" y1="438.16" x2="308.40" y2="438.16" stroke="#888" stroke-width="0.7" />
<line x1="339.69" y1="468.90" x2="339.69" y2="470.40" stroke="#666" stroke-width="0.8" />
<line x1="306.90" y1="434.00" x2="308.40" y2="434.00" stroke="#888" stroke-width="0.7" />
<line x1="343.92" y1="468.90" x2="343.92" y2="470.40" stroke="#666" stroke-width="0.8" />
<line x1="306.90" y1="431.05" x2="308.40" y2="431.05" stroke="#888" stroke-width="0.7" />
<line x1="346.93" y1="468.90" x2="346.93" y2="470.40" stroke="#666" stroke-width="0.8" />
<line x1="306.90" y1="428.76" x2="308.40" y2="428.76" stroke="#888" stroke-width="0.7" />
<line x1="349.26" y1="468.90" x2="349.26" y2="470.40" stroke="#666" stroke-width="0.8" />
<line x1="306.90" y1="426.89" x2="308.40" y2="426.89" stroke="#888" stroke-width="0.7" />
<line x1="351.16" y1="468.90" x2="351.16" y2="470.40" stroke="#666" stroke-width="0.8" />
<line x1="306.90" y1="425.31" x2="308.40" y2="425.31" stroke="#888" stroke-width="0.7" />
<line x1="352.77" y1="468.90" x2="352.77" y2="470.40" stroke="#666" stroke-width="0.8" />
<line x1="306.90" y1="423.94" x2="308.40" y2="423.94" stroke="#888" stroke-width="0.7" />
<line x1="354.17" y1="468.90" x2="354.17" y2="470.40" stroke="#666" stroke-width="0.8" />
<line x1="306.90" y1="422.73" x2="308.40" y2="422.73" stroke="#888" stroke-width="0.7" />
<line x1="355.40" y1="468.90" x2="355.40" y2="470.40" stroke="#666" stroke-width="0.8" />
<line x1="306.90" y1="414.54" x2="308.40" y2="414.54" stroke="#888" stroke-width="0.7" />
<line x1="363.74" y1="468.90" x2="363.74" y2="470.40" stroke="#666" stroke-width="0.8" />
<line x1="306.90" y1="410.38" x2="308.40" y2="410.38" stroke="#888" stroke-width="0.7" />
<line x1="367.97" y1="468.90" x2="367.97" y2="470.40" stroke="#666" stroke-width="0.8" />
<line x1="306.90" y1="407.43" x2="308.40" y2="407.43" stroke="#888" stroke-width="0.7" />
<line x1="370.98" y1="468.90" x2="370.98" y2="470.40" stroke="#666" stroke-width="0.8" />
<line x1="306.90" y1="405.14" x2="308.40" y2="405.14" stroke="#888" stroke-width="0.7" />
<line x1="373.31" y1="468.90" x2="373.31" y2="470.40" stroke="#666" stroke-width="0.8" />
<line x1="306.90" y1="403.27" x2="308.40" y2="403.27" stroke="#888" stroke-width="0.7" />
<line x1="375.21" y1="468.90" x2="375.21" y2="470.40" stroke="#666" stroke-width="0.8" />
<line x1="306.90" y1="401.68" x2="308.40" y2="401.68" stroke="#888" stroke-width="0.7" />
<line x1="376.82" y1="468.90" x2="376.82" y2="470.40" stroke="#666" stroke-width="0.8" />
<line x1="306.90" y1="400.31" x2="308.40" y2="400.31" stroke="#888" stroke-width="0.7" />
<line x1="378.22" y1="468.90" x2="378.22" y2="470.40" stroke="#666" stroke-width="0.8" />
<line x1="306.90" y1="399.11" x2="308.40" y2="399.11" stroke="#888" stroke-width="0.7" />
<line x1="379.45" y1="468.90" x2="379.45" y2="470.40" stroke="#666" stroke-width="0.8" />
<line x1="306.90" y1="390.91" x2="308.40" y2="390.91" stroke="#888" stroke-width="0.7" />
<line x1="387.79" y1="468.90" x2="387.79" y2="470.40" stroke="#666" stroke-width="0.8" />
<line x1="306.90" y1="386.75" x2="308.40" y2="386.75" stroke="#888" stroke-width="0.7" />
<line x1="392.02" y1="468.90" x2="392.02" y2="470.40" stroke="#666" stroke-width="0.8" />
<line x1="306.90" y1="383.80" x2="308.40" y2="383.80" stroke="#888" stroke-width="0.7" />
<line x1="395.03" y1="468.90" x2="395.03" y2="470.40" stroke="#666" stroke-width="0.8" />
<line x1="306.90" y1="381.51" x2="308.40" y2="381.51" stroke="#888" stroke-width="0.7" />
<line x1="397.36" y1="468.90" x2="397.36" y2="470.40" stroke="#666" stroke-width="0.8" />
<line x1="306.90" y1="379.64" x2="308.40" y2="379.64" stroke="#888" stroke-width="0.7" />
<line x1="399.26" y1="468.90" x2="399.26" y2="470.40" stroke="#666" stroke-width="0.8" />
<line x1="306.90" y1="378.06" x2="308.40" y2="378.06" stroke="#888" stroke-width="0.7" />
<line x1="400.87" y1="468.90" x2="400.87" y2="470.40" stroke="#666" stroke-width="0.8" />
<line x1="306.90" y1="376.69" x2="308.40" y2="376.69" stroke="#888" stroke-width="0.7" />
<line x1="402.27" y1="468.90" x2="402.27" y2="470.40" stroke="#666" stroke-width="0.8" />
<line x1="306.90" y1="375.48" x2="308.40" y2="375.48" stroke="#888" stroke-width="0.7" />
<line x1="403.50" y1="468.90" x2="403.50" y2="470.40" stroke="#666" stroke-width="0.8" />
<line x1="305.90" y1="468.90" x2="308.40" y2="468.90" stroke="#777" stroke-width="0.9" />
<line x1="308.40" y1="468.90" x2="308.40" y2="471.40" stroke="#555" stroke-width="0.9" />
<line x1="305.90" y1="445.27" x2="308.40" y2="445.27" stroke="#777" stroke-width="0.9" />
<line x1="332.45" y1="468.90" x2="332.45" y2="471.40" stroke="#555" stroke-width="0.9" />
<line x1="305.90" y1="421.65" x2="308.40" y2="421.65" stroke="#777" stroke-width="0.9" />
<line x1="356.50" y1="468.90" x2="356.50" y2="471.40" stroke="#555" stroke-width="0.9" />
<line x1="305.90" y1="398.02" x2="308.40" y2="398.02" stroke="#777" stroke-width="0.9" />
<line x1="380.55" y1="468.90" x2="380.55" y2="471.40" stroke="#555" stroke-width="0.9" />
<line x1="305.90" y1="374.40" x2="308.40" y2="374.40" stroke="#777" stroke-width="0.9" />
<line x1="404.60" y1="468.90" x2="404.60" y2="471.40" stroke="#555" stroke-width="0.9" />
<line x1="338.40" y1="374.40" x2="338.40" y2="468.90" stroke="#222" stroke-width="1.3" />
<line x1="308.40" y1="443.10" x2="404.60" y2="443.10" stroke="#222" stroke-width="1.3" />
<text x="311.70" y="384.00" font-size="8.8" text-anchor="start" font-weight="normal" font-style="normal" fill="#000" >31.8</text>
<text x="400.40" y="384.00" font-size="8.8" text-anchor="end" font-weight="normal" font-style="normal" fill="#000" >42.2</text>
<text x="311.70" y="465.10" font-size="8.8" text-anchor="start" font-weight="normal" font-style="normal" fill="#000" >24.3</text>
<text x="400.40" y="465.10" font-size="8.8" text-anchor="end" font-weight="normal" font-style="normal" fill="#000" >1.71</text>
<text x="70.20" y="362.60" font-size="10.4" text-anchor="end" font-weight="normal" font-style="normal" fill="#000" >10<tspan font-size="7.1" dy="-3.9">0</tspan></text>
<text x="70.20" y="338.97" font-size="10.4" text-anchor="end" font-weight="normal" font-style="normal" fill="#000" >10<tspan font-size="7.1" dy="-3.9">1</tspan></text>
<text x="70.20" y="315.35" font-size="10.4" text-anchor="end" font-weight="normal" font-style="normal" fill="#000" >10<tspan font-size="7.1" dy="-3.9">2</tspan></text>
<text x="70.20" y="291.72" font-size="10.4" text-anchor="end" font-weight="normal" font-style="normal" fill="#000" >10<tspan font-size="7.1" dy="-3.9">3</tspan></text>
<text x="70.20" y="268.10" font-size="10.4" text-anchor="end" font-weight="normal" font-style="normal" fill="#000" >10<tspan font-size="7.1" dy="-3.9">4</tspan></text>
<text x="70.20" y="472.30" font-size="10.4" text-anchor="end" font-weight="normal" font-style="normal" fill="#000" >10<tspan font-size="7.1" dy="-3.9">0</tspan></text>
<text x="70.20" y="448.67" font-size="10.4" text-anchor="end" font-weight="normal" font-style="normal" fill="#000" >10<tspan font-size="7.1" dy="-3.9">1</tspan></text>
<text x="70.20" y="425.05" font-size="10.4" text-anchor="end" font-weight="normal" font-style="normal" fill="#000" >10<tspan font-size="7.1" dy="-3.9">2</tspan></text>
<text x="70.20" y="401.42" font-size="10.4" text-anchor="end" font-weight="normal" font-style="normal" fill="#000" >10<tspan font-size="7.1" dy="-3.9">3</tspan></text>
<text x="70.20" y="377.80" font-size="10.4" text-anchor="end" font-weight="normal" font-style="normal" fill="#000" >10<tspan font-size="7.1" dy="-3.9">4</tspan></text>
<text x="78.00" y="488.00" font-size="10.4" text-anchor="middle" font-weight="normal" font-style="normal" fill="#000" >10<tspan font-size="7.1" dy="-3.9">0</tspan></text>
<text x="193.80" y="488.00" font-size="10.4" text-anchor="middle" font-weight="normal" font-style="normal" fill="#000" >10<tspan font-size="7.1" dy="-3.9">0</tspan></text>
<text x="309.90" y="488.00" font-size="10.4" text-anchor="middle" font-weight="normal" font-style="normal" fill="#000" >10<tspan font-size="7.1" dy="-3.9">0</tspan></text>
<text x="101.78" y="488.00" font-size="10.4" text-anchor="middle" font-weight="normal" font-style="normal" fill="#000" >10<tspan font-size="7.1" dy="-3.9">1</tspan></text>
<text x="217.55" y="488.00" font-size="10.4" text-anchor="middle" font-weight="normal" font-style="normal" fill="#000" >10<tspan font-size="7.1" dy="-3.9">1</tspan></text>
<text x="333.95" y="488.00" font-size="10.4" text-anchor="middle" font-weight="normal" font-style="normal" fill="#000" >10<tspan font-size="7.1" dy="-3.9">1</tspan></text>
<text x="125.55" y="488.00" font-size="10.4" text-anchor="middle" font-weight="normal" font-style="normal" fill="#000" >10<tspan font-size="7.1" dy="-3.9">2</tspan></text>
<text x="241.30" y="488.00" font-size="10.4" text-anchor="middle" font-weight="normal" font-style="normal" fill="#000" >10<tspan font-size="7.1" dy="-3.9">2</tspan></text>
<text x="358.00" y="488.00" font-size="10.4" text-anchor="middle" font-weight="normal" font-style="normal" fill="#000" >10<tspan font-size="7.1" dy="-3.9">2</tspan></text>
<text x="149.32" y="488.00" font-size="10.4" text-anchor="middle" font-weight="normal" font-style="normal" fill="#000" >10<tspan font-size="7.1" dy="-3.9">3</tspan></text>
<text x="265.05" y="488.00" font-size="10.4" text-anchor="middle" font-weight="normal" font-style="normal" fill="#000" >10<tspan font-size="7.1" dy="-3.9">3</tspan></text>
<text x="382.05" y="488.00" font-size="10.4" text-anchor="middle" font-weight="normal" font-style="normal" fill="#000" >10<tspan font-size="7.1" dy="-3.9">3</tspan></text>
<text x="173.10" y="488.00" font-size="10.4" text-anchor="middle" font-weight="normal" font-style="normal" fill="#000" >10<tspan font-size="7.1" dy="-3.9">4</tspan></text>
<text x="288.80" y="488.00" font-size="10.4" text-anchor="middle" font-weight="normal" font-style="normal" fill="#000" >10<tspan font-size="7.1" dy="-3.9">4</tspan></text>
<text x="406.10" y="488.00" font-size="10.4" text-anchor="middle" font-weight="normal" font-style="normal" fill="#000" >10<tspan font-size="7.1" dy="-3.9">4</tspan></text>
<text x="0.00" y="0.00" font-size="10.4" text-anchor="middle" font-weight="normal" font-style="normal" fill="#000" transform="translate(43,315) rotate(-90)">DMSO</text>
<text x="0.00" y="0.00" font-size="10.4" text-anchor="middle" font-weight="normal" font-style="normal" fill="#000" transform="translate(43.4,423) rotate(-90)">Niraparib</text>
<path d="M47.3,496.7 L47.3,469 M47.3,496.7 L79,496.7" stroke="#000" stroke-width="1.3" fill="none"/>
<path d="M43.8,470.3 L47.3,463.3 L50.8,470.3 Z" fill="#000"/>
<path d="M78.3,493.2 L85.3,496.7 L78.3,500.2 Z" fill="#000"/>
<text x="0.00" y="0.00" font-size="10.4" text-anchor="middle" font-weight="normal" font-style="normal" fill="#000" transform="translate(25.2,484.5) rotate(-90)">Annexin V</text>
<text x="0.00" y="0.00" font-size="10.4" text-anchor="middle" font-weight="normal" font-style="normal" fill="#000" transform="translate(37.4,483.7) rotate(-90)">(APC)</text>
<text x="65.00" y="510.70" font-size="10.4" text-anchor="middle" font-weight="normal" font-style="normal" fill="#000" >DNA</text>
<text x="64.70" y="522.50" font-size="10.4" text-anchor="middle" font-weight="normal" font-style="normal" fill="#000" >(PI)</text>
<text x="438.90" y="258.50" font-size="15" text-anchor="start" font-weight="bold" font-style="normal" fill="#000" >d</text>
<line x1="479.40" y1="291.30" x2="479.40" y2="423.20" stroke="#000" stroke-width="1.1" />
<line x1="477.20" y1="423.20" x2="479.40" y2="423.20" stroke="#000" stroke-width="1" />
<text x="472.60" y="426.50" font-size="10.4" text-anchor="end" font-weight="normal" font-style="normal" fill="#000" >0</text>
<line x1="477.20" y1="396.82" x2="479.40" y2="396.82" stroke="#000" stroke-width="1" />
<text x="472.60" y="400.12" font-size="10.4" text-anchor="end" font-weight="normal" font-style="normal" fill="#000" >20</text>
<line x1="477.20" y1="370.44" x2="479.40" y2="370.44" stroke="#000" stroke-width="1" />
<text x="472.60" y="373.74" font-size="10.4" text-anchor="end" font-weight="normal" font-style="normal" fill="#000" >40</text>
<line x1="477.20" y1="344.06" x2="479.40" y2="344.06" stroke="#000" stroke-width="1" />
<text x="472.60" y="347.36" font-size="10.4" text-anchor="end" font-weight="normal" font-style="normal" fill="#000" >60</text>
<line x1="477.20" y1="317.68" x2="479.40" y2="317.68" stroke="#000" stroke-width="1" />
<text x="472.60" y="320.98" font-size="10.4" text-anchor="end" font-weight="normal" font-style="normal" fill="#000" >80</text>
<line x1="477.20" y1="291.30" x2="479.40" y2="291.30" stroke="#000" stroke-width="1" />
<text x="472.60" y="294.60" font-size="10.4" text-anchor="end" font-weight="normal" font-style="normal" fill="#000" >100</text>
<line x1="479.40" y1="423.20" x2="595.50" y2="423.20" stroke="#000" stroke-width="1.1" />
<rect x="483.40" y="408.03" width="15.3" height="15.17" fill="#5b8fc4" stroke="#000" stroke-width="1"/>
<rect x="498.70" y="367.80" width="15.3" height="55.40" fill="#9db565" stroke="#000" stroke-width="1"/>
<line x1="491.05" y1="405.39" x2="491.05" y2="410.67" stroke="#000" stroke-width="1" />
<line x1="487.55" y1="405.39" x2="494.55" y2="405.39" stroke="#000" stroke-width="1" />
<line x1="487.55" y1="410.67" x2="494.55" y2="410.67" stroke="#000" stroke-width="1" />
<line x1="506.35" y1="354.61" x2="506.35" y2="379.67" stroke="#000" stroke-width="1" />
<line x1="502.85" y1="354.61" x2="509.85" y2="354.61" stroke="#000" stroke-width="1" />
<line x1="502.85" y1="379.67" x2="509.85" y2="379.67" stroke="#000" stroke-width="1" />
<circle cx="491.45" cy="405.66" r="1.9" fill="#000"/>
<circle cx="488.65" cy="411.07" r="1.9" fill="#000"/>
<circle cx="492.65" cy="408.30" r="1.9" fill="#000"/>
<circle cx="506.35" cy="354.61" r="1.9" fill="#000"/>
<circle cx="506.55" cy="370.84" r="1.9" fill="#000"/>
<circle cx="506.35" cy="378.35" r="1.9" fill="#000"/>
<line x1="498.70" y1="423.20" x2="498.70" y2="425.70" stroke="#000" stroke-width="1" />
<rect x="522.00" y="410.01" width="15.3" height="13.19" fill="#5b8fc4" stroke="#000" stroke-width="1"/>
<rect x="537.30" y="325.59" width="15.3" height="97.61" fill="#9db565" stroke="#000" stroke-width="1"/>
<line x1="529.65" y1="407.37" x2="529.65" y2="412.65" stroke="#000" stroke-width="1" />
<line x1="526.15" y1="407.37" x2="533.15" y2="407.37" stroke="#000" stroke-width="1" />
<line x1="526.15" y1="412.65" x2="533.15" y2="412.65" stroke="#000" stroke-width="1" />
<line x1="544.95" y1="316.36" x2="544.95" y2="333.51" stroke="#000" stroke-width="1" />
<line x1="541.45" y1="316.36" x2="548.45" y2="316.36" stroke="#000" stroke-width="1" />
<line x1="541.45" y1="333.51" x2="548.45" y2="333.51" stroke="#000" stroke-width="1" />
<circle cx="530.05" cy="407.11" r="1.9" fill="#000"/>
<circle cx="527.75" cy="412.65" r="1.9" fill="#000"/>
<circle cx="531.85" cy="410.93" r="1.9" fill="#000"/>
<circle cx="544.95" cy="316.36" r="1.9" fill="#000"/>
<circle cx="544.95" cy="325.73" r="1.9" fill="#000"/>
<circle cx="544.95" cy="333.51" r="1.9" fill="#000"/>
<line x1="537.30" y1="423.20" x2="537.30" y2="425.70" stroke="#000" stroke-width="1" />
<rect x="560.60" y="411.99" width="15.3" height="11.21" fill="#5b8fc4" stroke="#000" stroke-width="1"/>
<rect x="575.90" y="322.30" width="15.3" height="100.90" fill="#9db565" stroke="#000" stroke-width="1"/>
<line x1="568.25" y1="410.67" x2="568.25" y2="413.31" stroke="#000" stroke-width="1" />
<line x1="564.75" y1="410.67" x2="571.75" y2="410.67" stroke="#000" stroke-width="1" />
<line x1="564.75" y1="413.31" x2="571.75" y2="413.31" stroke="#000" stroke-width="1" />
<line x1="583.55" y1="315.04" x2="583.55" y2="328.23" stroke="#000" stroke-width="1" />
<line x1="580.05" y1="315.04" x2="587.05" y2="315.04" stroke="#000" stroke-width="1" />
<line x1="580.05" y1="328.23" x2="587.05" y2="328.23" stroke="#000" stroke-width="1" />
<circle cx="564.95" cy="411.59" r="1.9" fill="#000"/>
<circle cx="568.65" cy="413.18" r="1.9" fill="#000"/>
<circle cx="572.15" cy="411.46" r="1.9" fill="#000"/>
<circle cx="583.55" cy="315.04" r="1.9" fill="#000"/>
<circle cx="581.75" cy="324.93" r="1.9" fill="#000"/>
<circle cx="585.35" cy="324.93" r="1.9" fill="#000"/>
<line x1="575.90" y1="423.20" x2="575.90" y2="425.70" stroke="#000" stroke-width="1" />
<path d="M506.35,350 L506.35,286.2 L583.55,286.2 L583.55,307" stroke="#000" stroke-width="1" fill="none"/>
<path d="M506.35,297.7 L544.95,297.7 L544.95,307" stroke="#000" stroke-width="1" fill="none"/>
<polygon points="543.55,280.25 544.05,281.31 545.21,281.46 544.36,282.26 544.58,283.42 543.55,282.85 542.52,283.42 542.74,282.26 541.89,281.46 543.05,281.31" fill="#000"/>
<polygon points="546.95,280.25 547.45,281.31 548.61,281.46 547.76,282.26 547.98,283.42 546.95,282.85 545.92,283.42 546.14,282.26 545.29,281.46 546.45,281.31" fill="#000"/>
<polygon points="524.35,292.75 524.85,293.81 526.01,293.96 525.16,294.76 525.38,295.92 524.35,295.35 523.32,295.92 523.54,294.76 522.69,293.96 523.85,293.81" fill="#000"/>
<polygon points="527.75,292.75 528.25,293.81 529.41,293.96 528.56,294.76 528.78,295.92 527.75,295.35 526.72,295.92 526.94,294.76 526.09,293.96 527.25,293.81" fill="#000"/>
<rect x="597.9" y="322.5" width="8.4" height="10" fill="#5b8fc4" stroke="#000" stroke-width="1"/>
<rect x="597.9" y="336.1" width="8.4" height="10" fill="#9db565" stroke="#000" stroke-width="1"/>
<text x="610.60" y="330.60" font-size="8.7" text-anchor="start" font-weight="normal" font-style="normal" fill="#000" >DMSO</text>
<text x="610.60" y="344.80" font-size="8.7" text-anchor="start" font-weight="normal" font-style="normal" fill="#000" >Niraparib</text>
<text x="0.00" y="0.00" font-size="9.5" text-anchor="middle" font-weight="normal" font-style="normal" fill="#000" transform="translate(447.2,353.6) rotate(-90)">Annexin V+ cells [%]</text>
<text x="480.40" y="444.80" font-size="10.4" text-anchor="end" font-weight="normal" font-style="normal" fill="#000" ><tspan font-style="italic">FAM111A</tspan>:</text>
<text x="0.00" y="0.00" font-size="10.4" text-anchor="end" font-weight="normal" font-style="normal" fill="#000" transform="translate(505.1,435.0) rotate(-45)">WT</text>
<text x="0.00" y="0.00" font-size="10.4" text-anchor="end" font-weight="normal" font-style="normal" fill="#000" transform="translate(543.8,434.8) rotate(-45)">KO #14</text>
<text x="0.00" y="0.00" font-size="10.4" text-anchor="end" font-weight="normal" font-style="normal" fill="#000" transform="translate(581.7,435.0) rotate(-45)">KO #16</text>
</svg>
</body></html>
